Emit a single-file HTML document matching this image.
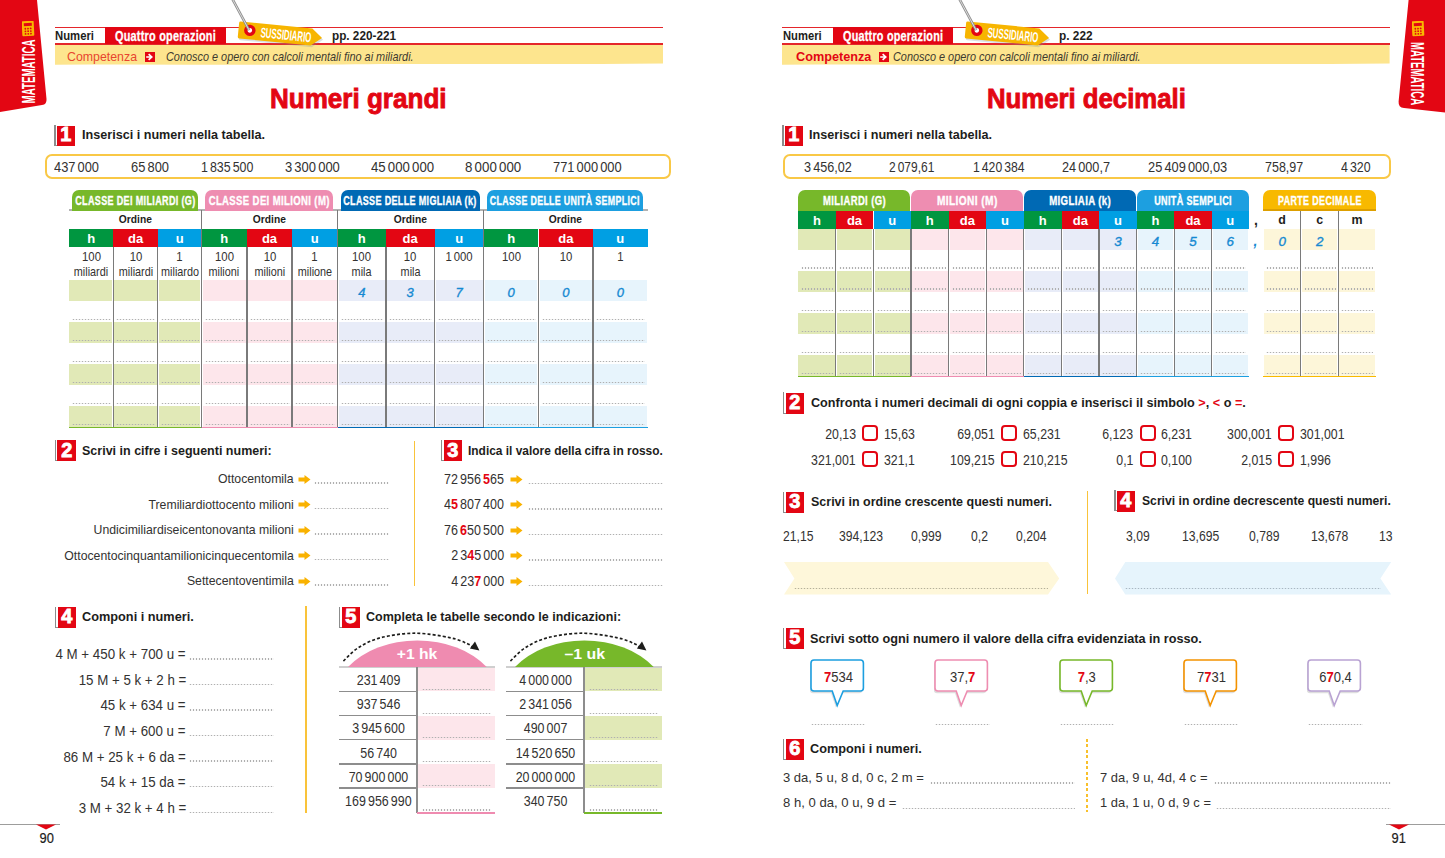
<!DOCTYPE html><html><head><meta charset="utf-8"><style>html,body{margin:0;padding:0;background:#fff;width:1445px;height:858px;overflow:hidden;position:relative;font-family:"Liberation Sans",sans-serif}.a{position:absolute}.f{display:flex;width:0;white-space:nowrap}.f>span{display:inline-block;white-space:nowrap}b{font-weight:700}</style></head><body><svg class="a" style="left:0px;top:0px;z-index:2;" width="50" height="114" viewBox="0 0 50 114"><path d="M0 0 H37 L46.5 99 Q47 104.5 42 105 L0 112 Z" fill="#e30613"/></svg>
<div class="a" style="left:22px;top:40px;width:13px;height:63px;z-index:4;overflow:visible"><div style="position:absolute;left:0;top:63px;width:63px;height:13px;transform:rotate(-90deg);transform-origin:0 0;display:flex;justify-content:center;align-items:center"><span style="font:700 17.5px/13px 'Liberation Sans',sans-serif;color:#fff;transform:scaleX(0.555);white-space:nowrap;display:inline-block;margin-top:1px">MATEMATICA</span></div></div>
<svg class="a" style="left:22px;top:21px;z-index:4;" width="13" height="16" viewBox="0 0 13 16"><g transform="rotate(-3 6 7.5)"><rect x="0" y="0" width="12" height="15" rx="1" fill="#f9b800"/><rect x="2" y="2" width="8" height="3" fill="#e30613"/><g fill="#e30613"><circle cx="3.3" cy="7.6" r="0.9"/><circle cx="6" cy="7.6" r="0.9"/><circle cx="8.7" cy="7.6" r="0.9"/><circle cx="3.3" cy="10.2" r="0.9"/><circle cx="6" cy="10.2" r="0.9"/><circle cx="8.7" cy="10.2" r="0.9"/><circle cx="3.3" cy="12.8" r="0.9"/><circle cx="6" cy="12.8" r="0.9"/><circle cx="8.7" cy="12.8" r="0.9"/></g></g></svg>
<div class="a" style="left:54.5px;top:26.6px;width:608.3px;height:1.6px;background:#e4262b;z-index:2;"></div>
<div class="a" style="left:54.5px;top:43.3px;width:608.3px;height:2.0px;background:#e4262b;z-index:2;"></div>
<div class="a" style="left:105.0px;top:27.4px;width:121.0px;height:17.0px;background:#e30613;z-index:3;"></div>
<div class="a f" style="left:55.0px;top:29.2px;justify-content:flex-start;z-index:5"><span style="font-size:13.5px;line-height:13.5px;color:#1d1d1b;font-weight:700;transform:scaleX(0.838);transform-origin:left">Numeri</span></div>
<div class="a f" style="left:115.0px;top:28.8px;justify-content:flex-start;z-index:5"><span style="font-size:14.6px;line-height:14.6px;color:#fff;font-weight:700;letter-spacing:0.3px;-webkit-text-stroke:0.3px #fff;transform:scaleX(0.747);transform-origin:left">Quattro operazioni</span></div>
<div class="a f" style="left:332.0px;top:29.4px;justify-content:flex-start;z-index:5"><span style="font-size:13.5px;line-height:13.5px;color:#1d1d1b;font-weight:700;transform:scaleX(0.870);transform-origin:left">pp. 220-221</span></div>
<svg class="a" style="left:54.5px;top:45px;z-index:1" width="608.3" height="22" viewBox="0 0 608.3 22"><path d="M0 0 H608.3 V18.5 C486.64 19.8 364.97999999999996 18.2 273.735 19.6 C182.48999999999998 20.5 91.24499999999999 18.8 0 19.8 Z" fill="#fde58e"/></svg>
<div class="a f" style="left:67.0px;top:50.2px;justify-content:flex-start;z-index:5"><span style="font-size:13.4px;line-height:13.4px;color:#e8452f;transform:scaleX(0.922);transform-origin:left">Competenza</span></div>
<div class="a" style="left:145.0px;top:52.0px;width:10.0px;height:9.8px;background:#e30613;z-index:3;"></div>
<svg class="a" style="left:145px;top:52px;z-index:4;" width="10" height="10" viewBox="0 0 10 10"><path d="M2 5 H6 M4.2 2.6 L6.8 5 L4.2 7.4" stroke="#fff" stroke-width="1.6" fill="none" stroke-linecap="square"/></svg>
<div class="a f" style="left:166.0px;top:50.5px;justify-content:flex-start;z-index:5"><span style="font-size:12.4px;line-height:12.4px;color:#3d3a2e;font-style:italic;transform:scaleX(0.879);transform-origin:left">Conosco e opero con calcoli mentali fino ai miliardi.</span></div>
<svg class="a" style="left:229.2px;top:0px;z-index:6;" width="100" height="50" viewBox="0 0 100 50"><g transform="translate(10.3,21.3) rotate(5.6)"><path d="M1.5 0 H73.4 L84 8.6 L73.4 17.1 H1.5 Q0 17.1 0 15.6 V1.5 Q0 0 1.5 0 Z" fill="#7f8fa6" opacity="0.28" transform="translate(1.2,1.6)"/><path d="M1.5 0 H73.4 L84 8.6 L73.4 17.1 H1.5 Q0 17.1 0 15.6 V1.5 Q0 0 1.5 0 Z" fill="#f7b500"/><circle cx="11.4" cy="8.0" r="5.7" fill="#e30613"/><circle cx="11.4" cy="8.0" r="2.3" fill="#fff"/><text x="22.3" y="13.9" font-family="Liberation Sans" font-weight="700" font-size="14.2" fill="#fff" textLength="51" lengthAdjust="spacingAndGlyphs">SUSSIDIARIO</text></g><path d="M3.4 -1 L20.1 30.2" stroke="#8d8d8d" stroke-width="2.6" fill="none"/><path d="M3.4 -1 L20.1 30.2" stroke="#e6e6e6" stroke-width="0.9" fill="none"/></svg>
<div class="a f" style="left:270.3px;top:84.7px;justify-content:flex-start;z-index:5"><span style="font-size:28px;line-height:28px;color:#e30613;font-weight:700;-webkit-text-stroke:0.9px #e30613;transform:scaleX(0.930);transform-origin:left">Numeri grandi</span></div>
<div class="a" style="left:54.3px;top:125.3px;width:1.4px;height:20.6px;background:#8c8c8c;z-index:4;"></div>
<div class="a" style="left:54.3px;top:144.8px;width:3.0px;height:1.1px;background:#8c8c8c;z-index:4;"></div>
<div class="a" style="left:57.1px;top:125.5px;width:18.2px;height:20.4px;background:#e30613;z-index:5;"></div>
<div class="a f" style="left:66.2px;top:124.3px;justify-content:center;z-index:6"><span style="font-size:20.5px;line-height:20.5px;color:#fff;font-weight:700;-webkit-text-stroke:0.9px #fff;transform:scaleX(0.970);transform-origin:center">1</span></div>
<div class="a f" style="left:81.7px;top:128.1px;justify-content:flex-start;z-index:5"><span style="font-size:13.6px;line-height:13.6px;color:#1d1d1b;font-weight:700;transform:scaleX(0.928);transform-origin:left">Inserisci i numeri nella tabella.</span></div>
<div class="a" style="left:45.4px;top:154.0px;width:625.8px;height:25.0px;background:#fff;z-index:2;border:2px solid #f9c846;border-radius:7px;box-sizing:border-box"></div>
<div class="a f" style="left:54.3px;top:160.0px;justify-content:flex-start;z-index:5"><span style="font-size:14.2px;line-height:14.2px;color:#333231;transform:scaleX(0.905);transform-origin:left">437&#8198;000</span></div>
<div class="a f" style="left:130.8px;top:160.0px;justify-content:flex-start;z-index:5"><span style="font-size:14.2px;line-height:14.2px;color:#333231;transform:scaleX(0.908);transform-origin:left">65&#8198;800</span></div>
<div class="a f" style="left:200.5px;top:160.0px;justify-content:flex-start;z-index:5"><span style="font-size:14.2px;line-height:14.2px;color:#333231;transform:scaleX(0.874);transform-origin:left">1&#8198;835&#8198;500</span></div>
<div class="a f" style="left:284.5px;top:160.0px;justify-content:flex-start;z-index:5"><span style="font-size:14.2px;line-height:14.2px;color:#333231;transform:scaleX(0.914);transform-origin:left">3&#8198;300&#8198;000</span></div>
<div class="a f" style="left:370.6px;top:160.0px;justify-content:flex-start;z-index:5"><span style="font-size:14.2px;line-height:14.2px;color:#333231;transform:scaleX(0.930);transform-origin:left">45&#8198;000&#8198;000</span></div>
<div class="a f" style="left:464.7px;top:160.0px;justify-content:flex-start;z-index:5"><span style="font-size:14.2px;line-height:14.2px;color:#333231;transform:scaleX(0.937);transform-origin:left">8&#8198;000&#8198;000</span></div>
<div class="a f" style="left:552.5px;top:160.0px;justify-content:flex-start;z-index:5"><span style="font-size:14.2px;line-height:14.2px;color:#333231;transform:scaleX(0.906);transform-origin:left">771&#8198;000&#8198;000</span></div>
<div class="a" style="left:71.7px;top:190.0px;width:126.6px;height:20.5px;background:#77b82a;z-index:3;border-radius:7px 7px 0 0"></div>
<div class="a f" style="left:135.0px;top:194.8px;justify-content:center;z-index:6"><span style="font-size:12.8px;line-height:12.8px;color:#fff;font-weight:700;letter-spacing:0.5px;-webkit-text-stroke:0.35px #fff;transform:scaleX(0.705);transform-origin:center">CLASSE DEI MILIARDI (G)</span></div>
<div class="a" style="left:205.0px;top:190.0px;width:128.3px;height:20.5px;background:#ee8db1;z-index:3;border-radius:7px 7px 0 0"></div>
<div class="a f" style="left:269.1px;top:194.8px;justify-content:center;z-index:6"><span style="font-size:12.8px;line-height:12.8px;color:#fff;font-weight:700;letter-spacing:0.5px;-webkit-text-stroke:0.35px #fff;transform:scaleX(0.746);transform-origin:center">CLASSE DEI MILIONI (M)</span></div>
<div class="a" style="left:340.6px;top:190.0px;width:139.4px;height:20.5px;background:#0069b4;z-index:3;border-radius:7px 7px 0 0"></div>
<div class="a f" style="left:410.3px;top:194.8px;justify-content:center;z-index:6"><span style="font-size:12.8px;line-height:12.8px;color:#fff;font-weight:700;letter-spacing:0.5px;-webkit-text-stroke:0.35px #fff;transform:scaleX(0.703);transform-origin:center">CLASSE DELLE MIGLIAIA (k)</span></div>
<div class="a" style="left:487.0px;top:190.0px;width:156.0px;height:20.5px;background:#1d9fe0;z-index:3;border-radius:7px 7px 0 0"></div>
<div class="a f" style="left:565.0px;top:194.8px;justify-content:center;z-index:6"><span style="font-size:12.8px;line-height:12.8px;color:#fff;font-weight:700;letter-spacing:0.5px;-webkit-text-stroke:0.35px #fff;transform:scaleX(0.689);transform-origin:center">CLASSE DELLE UNITÀ SEMPLICI</span></div>
<div class="a" style="left:68.9px;top:209.3px;width:578.7px;height:1.4px;background:#b2b2b2;z-index:2;"></div>
<div class="a f" style="left:135.2px;top:214.2px;justify-content:center;z-index:5"><span style="font-size:11.4px;line-height:11.4px;color:#1d1d1b;font-weight:700;transform:scaleX(0.899);transform-origin:center">Ordine</span></div>
<div class="a f" style="left:269.6px;top:214.2px;justify-content:center;z-index:5"><span style="font-size:11.4px;line-height:11.4px;color:#1d1d1b;font-weight:700;transform:scaleX(0.899);transform-origin:center">Ordine</span></div>
<div class="a f" style="left:410.6px;top:214.2px;justify-content:center;z-index:5"><span style="font-size:11.4px;line-height:11.4px;color:#1d1d1b;font-weight:700;transform:scaleX(0.899);transform-origin:center">Ordine</span></div>
<div class="a f" style="left:565.6px;top:214.2px;justify-content:center;z-index:5"><span style="font-size:11.4px;line-height:11.4px;color:#1d1d1b;font-weight:700;transform:scaleX(0.899);transform-origin:center">Ordine</span></div>
<div class="a" style="left:68.9px;top:229.0px;width:44.5px;height:17.5px;background:#009640;z-index:3;"></div>
<div class="a f" style="left:91.2px;top:231.6px;justify-content:center;z-index:6"><span style="font-size:13px;line-height:13px;color:#fff;font-weight:700">h</span></div>
<div class="a" style="left:113.4px;top:229.0px;width:44.3px;height:17.5px;background:#e30613;z-index:3;"></div>
<div class="a f" style="left:135.6px;top:231.6px;justify-content:center;z-index:6"><span style="font-size:13px;line-height:13px;color:#fff;font-weight:700">da</span></div>
<div class="a" style="left:157.7px;top:229.0px;width:43.8px;height:17.5px;background:#009fe3;z-index:3;"></div>
<div class="a f" style="left:179.6px;top:231.6px;justify-content:center;z-index:6"><span style="font-size:13px;line-height:13px;color:#fff;font-weight:700">u</span></div>
<div class="a" style="left:201.5px;top:229.0px;width:45.5px;height:17.5px;background:#009640;z-index:3;"></div>
<div class="a f" style="left:224.2px;top:231.6px;justify-content:center;z-index:6"><span style="font-size:13px;line-height:13px;color:#fff;font-weight:700">h</span></div>
<div class="a" style="left:247.0px;top:229.0px;width:45.0px;height:17.5px;background:#e30613;z-index:3;"></div>
<div class="a f" style="left:269.5px;top:231.6px;justify-content:center;z-index:6"><span style="font-size:13px;line-height:13px;color:#fff;font-weight:700">da</span></div>
<div class="a" style="left:292.0px;top:229.0px;width:45.6px;height:17.5px;background:#009fe3;z-index:3;"></div>
<div class="a f" style="left:314.8px;top:231.6px;justify-content:center;z-index:6"><span style="font-size:13px;line-height:13px;color:#fff;font-weight:700">u</span></div>
<div class="a" style="left:337.6px;top:229.0px;width:48.4px;height:17.5px;background:#009640;z-index:3;"></div>
<div class="a f" style="left:361.8px;top:231.6px;justify-content:center;z-index:6"><span style="font-size:13px;line-height:13px;color:#fff;font-weight:700">h</span></div>
<div class="a" style="left:386.0px;top:229.0px;width:48.5px;height:17.5px;background:#e30613;z-index:3;"></div>
<div class="a f" style="left:410.2px;top:231.6px;justify-content:center;z-index:6"><span style="font-size:13px;line-height:13px;color:#fff;font-weight:700">da</span></div>
<div class="a" style="left:434.5px;top:229.0px;width:49.1px;height:17.5px;background:#009fe3;z-index:3;"></div>
<div class="a f" style="left:459.1px;top:231.6px;justify-content:center;z-index:6"><span style="font-size:13px;line-height:13px;color:#fff;font-weight:700">u</span></div>
<div class="a" style="left:483.6px;top:229.0px;width:54.9px;height:17.5px;background:#009640;z-index:3;"></div>
<div class="a f" style="left:511.1px;top:231.6px;justify-content:center;z-index:6"><span style="font-size:13px;line-height:13px;color:#fff;font-weight:700">h</span></div>
<div class="a" style="left:538.5px;top:229.0px;width:54.5px;height:17.5px;background:#e30613;z-index:3;"></div>
<div class="a f" style="left:565.8px;top:231.6px;justify-content:center;z-index:6"><span style="font-size:13px;line-height:13px;color:#fff;font-weight:700">da</span></div>
<div class="a" style="left:593.0px;top:229.0px;width:54.6px;height:17.5px;background:#009fe3;z-index:3;"></div>
<div class="a f" style="left:620.3px;top:231.6px;justify-content:center;z-index:6"><span style="font-size:13px;line-height:13px;color:#fff;font-weight:700">u</span></div>
<div class="a f" style="left:91.2px;top:250.9px;justify-content:center;z-index:5"><span style="font-size:12.6px;line-height:12.6px;color:#333231;transform:scaleX(0.900);transform-origin:center">100</span></div>
<div class="a f" style="left:91.2px;top:265.6px;justify-content:center;z-index:5"><span style="font-size:12.6px;line-height:12.6px;color:#333231;transform:scaleX(0.860);transform-origin:center">miliardi</span></div>
<div class="a f" style="left:135.6px;top:250.9px;justify-content:center;z-index:5"><span style="font-size:12.6px;line-height:12.6px;color:#333231;transform:scaleX(0.900);transform-origin:center">10</span></div>
<div class="a f" style="left:135.6px;top:265.6px;justify-content:center;z-index:5"><span style="font-size:12.6px;line-height:12.6px;color:#333231;transform:scaleX(0.860);transform-origin:center">miliardi</span></div>
<div class="a f" style="left:179.6px;top:250.9px;justify-content:center;z-index:5"><span style="font-size:12.6px;line-height:12.6px;color:#333231;transform:scaleX(0.900);transform-origin:center">1</span></div>
<div class="a f" style="left:179.6px;top:265.6px;justify-content:center;z-index:5"><span style="font-size:12.6px;line-height:12.6px;color:#333231;transform:scaleX(0.860);transform-origin:center">miliardo</span></div>
<div class="a f" style="left:224.2px;top:250.9px;justify-content:center;z-index:5"><span style="font-size:12.6px;line-height:12.6px;color:#333231;transform:scaleX(0.900);transform-origin:center">100</span></div>
<div class="a f" style="left:224.2px;top:265.6px;justify-content:center;z-index:5"><span style="font-size:12.6px;line-height:12.6px;color:#333231;transform:scaleX(0.860);transform-origin:center">milioni</span></div>
<div class="a f" style="left:269.5px;top:250.9px;justify-content:center;z-index:5"><span style="font-size:12.6px;line-height:12.6px;color:#333231;transform:scaleX(0.900);transform-origin:center">10</span></div>
<div class="a f" style="left:269.5px;top:265.6px;justify-content:center;z-index:5"><span style="font-size:12.6px;line-height:12.6px;color:#333231;transform:scaleX(0.860);transform-origin:center">milioni</span></div>
<div class="a f" style="left:314.8px;top:250.9px;justify-content:center;z-index:5"><span style="font-size:12.6px;line-height:12.6px;color:#333231;transform:scaleX(0.900);transform-origin:center">1</span></div>
<div class="a f" style="left:314.8px;top:265.6px;justify-content:center;z-index:5"><span style="font-size:12.6px;line-height:12.6px;color:#333231;transform:scaleX(0.860);transform-origin:center">milione</span></div>
<div class="a f" style="left:361.8px;top:250.9px;justify-content:center;z-index:5"><span style="font-size:12.6px;line-height:12.6px;color:#333231;transform:scaleX(0.900);transform-origin:center">100</span></div>
<div class="a f" style="left:361.8px;top:265.6px;justify-content:center;z-index:5"><span style="font-size:12.6px;line-height:12.6px;color:#333231;transform:scaleX(0.860);transform-origin:center">mila</span></div>
<div class="a f" style="left:410.2px;top:250.9px;justify-content:center;z-index:5"><span style="font-size:12.6px;line-height:12.6px;color:#333231;transform:scaleX(0.900);transform-origin:center">10</span></div>
<div class="a f" style="left:410.2px;top:265.6px;justify-content:center;z-index:5"><span style="font-size:12.6px;line-height:12.6px;color:#333231;transform:scaleX(0.860);transform-origin:center">mila</span></div>
<div class="a f" style="left:459.1px;top:250.9px;justify-content:center;z-index:5"><span style="font-size:12.6px;line-height:12.6px;color:#333231;transform:scaleX(0.900);transform-origin:center">1&#8198;000</span></div>
<div class="a f" style="left:511.1px;top:250.9px;justify-content:center;z-index:5"><span style="font-size:12.6px;line-height:12.6px;color:#333231;transform:scaleX(0.900);transform-origin:center">100</span></div>
<div class="a f" style="left:565.8px;top:250.9px;justify-content:center;z-index:5"><span style="font-size:12.6px;line-height:12.6px;color:#333231;transform:scaleX(0.900);transform-origin:center">10</span></div>
<div class="a f" style="left:620.3px;top:250.9px;justify-content:center;z-index:5"><span style="font-size:12.6px;line-height:12.6px;color:#333231;transform:scaleX(0.900);transform-origin:center">1</span></div>
<div class="a" style="left:68.9px;top:280.1px;width:43.5px;height:21.0px;background:#e1e9b7;z-index:2;"></div>
<div class="a" style="left:114.4px;top:280.1px;width:42.3px;height:21.0px;background:#e1e9b7;z-index:2;"></div>
<div class="a" style="left:158.7px;top:280.1px;width:41.8px;height:21.0px;background:#e1e9b7;z-index:2;"></div>
<div class="a" style="left:202.5px;top:280.1px;width:43.5px;height:21.0px;background:#fde6eb;z-index:2;"></div>
<div class="a" style="left:248.0px;top:280.1px;width:43.0px;height:21.0px;background:#fde6eb;z-index:2;"></div>
<div class="a" style="left:293.0px;top:280.1px;width:43.6px;height:21.0px;background:#fde6eb;z-index:2;"></div>
<div class="a" style="left:338.6px;top:280.1px;width:46.4px;height:21.0px;background:#e8ecf8;z-index:2;"></div>
<div class="a" style="left:387.0px;top:280.1px;width:46.5px;height:21.0px;background:#e8ecf8;z-index:2;"></div>
<div class="a" style="left:435.5px;top:280.1px;width:47.1px;height:21.0px;background:#e8ecf8;z-index:2;"></div>
<div class="a" style="left:484.6px;top:280.1px;width:52.9px;height:21.0px;background:#e7f4fc;z-index:2;"></div>
<div class="a" style="left:539.5px;top:280.1px;width:52.5px;height:21.0px;background:#e7f4fc;z-index:2;"></div>
<div class="a" style="left:594.0px;top:280.1px;width:52.6px;height:21.0px;background:#e7f4fc;z-index:2;"></div>
<div class="a" style="left:71.9px;top:318.9px;width:39.0px;height:1.4px;background-image:radial-gradient(circle,#b0b0b0 0.6px,transparent 1.1px);background-size:3.0px 1.4px;z-index:3"></div>
<div class="a" style="left:116.4px;top:318.9px;width:38.8px;height:1.4px;background-image:radial-gradient(circle,#b0b0b0 0.6px,transparent 1.1px);background-size:3.0px 1.4px;z-index:3"></div>
<div class="a" style="left:160.7px;top:318.9px;width:38.3px;height:1.4px;background-image:radial-gradient(circle,#b0b0b0 0.6px,transparent 1.1px);background-size:3.0px 1.4px;z-index:3"></div>
<div class="a" style="left:204.5px;top:318.9px;width:40.0px;height:1.4px;background-image:radial-gradient(circle,#b0b0b0 0.6px,transparent 1.1px);background-size:3.0px 1.4px;z-index:3"></div>
<div class="a" style="left:250.0px;top:318.9px;width:39.5px;height:1.4px;background-image:radial-gradient(circle,#b0b0b0 0.6px,transparent 1.1px);background-size:3.0px 1.4px;z-index:3"></div>
<div class="a" style="left:295.0px;top:318.9px;width:40.1px;height:1.4px;background-image:radial-gradient(circle,#b0b0b0 0.6px,transparent 1.1px);background-size:3.0px 1.4px;z-index:3"></div>
<div class="a" style="left:340.6px;top:318.9px;width:42.9px;height:1.4px;background-image:radial-gradient(circle,#b0b0b0 0.6px,transparent 1.1px);background-size:3.0px 1.4px;z-index:3"></div>
<div class="a" style="left:389.0px;top:318.9px;width:43.0px;height:1.4px;background-image:radial-gradient(circle,#b0b0b0 0.6px,transparent 1.1px);background-size:3.0px 1.4px;z-index:3"></div>
<div class="a" style="left:437.5px;top:318.9px;width:43.6px;height:1.4px;background-image:radial-gradient(circle,#b0b0b0 0.6px,transparent 1.1px);background-size:3.0px 1.4px;z-index:3"></div>
<div class="a" style="left:486.6px;top:318.9px;width:49.4px;height:1.4px;background-image:radial-gradient(circle,#b0b0b0 0.6px,transparent 1.1px);background-size:3.0px 1.4px;z-index:3"></div>
<div class="a" style="left:541.5px;top:318.9px;width:49.0px;height:1.4px;background-image:radial-gradient(circle,#b0b0b0 0.6px,transparent 1.1px);background-size:3.0px 1.4px;z-index:3"></div>
<div class="a" style="left:596.0px;top:318.9px;width:49.1px;height:1.4px;background-image:radial-gradient(circle,#b0b0b0 0.6px,transparent 1.1px);background-size:3.0px 1.4px;z-index:3"></div>
<div class="a" style="left:68.9px;top:322.2px;width:43.5px;height:21.0px;background:#e1e9b7;z-index:2;"></div>
<div class="a" style="left:71.9px;top:339.9px;width:39.0px;height:1.4px;background-image:radial-gradient(circle,#b0b0b0 0.6px,transparent 1.1px);background-size:3.0px 1.4px;z-index:3"></div>
<div class="a" style="left:114.4px;top:322.2px;width:42.3px;height:21.0px;background:#e1e9b7;z-index:2;"></div>
<div class="a" style="left:116.4px;top:339.9px;width:38.8px;height:1.4px;background-image:radial-gradient(circle,#b0b0b0 0.6px,transparent 1.1px);background-size:3.0px 1.4px;z-index:3"></div>
<div class="a" style="left:158.7px;top:322.2px;width:41.8px;height:21.0px;background:#e1e9b7;z-index:2;"></div>
<div class="a" style="left:160.7px;top:339.9px;width:38.3px;height:1.4px;background-image:radial-gradient(circle,#b0b0b0 0.6px,transparent 1.1px);background-size:3.0px 1.4px;z-index:3"></div>
<div class="a" style="left:202.5px;top:322.2px;width:43.5px;height:21.0px;background:#fde6eb;z-index:2;"></div>
<div class="a" style="left:204.5px;top:339.9px;width:40.0px;height:1.4px;background-image:radial-gradient(circle,#b0b0b0 0.6px,transparent 1.1px);background-size:3.0px 1.4px;z-index:3"></div>
<div class="a" style="left:248.0px;top:322.2px;width:43.0px;height:21.0px;background:#fde6eb;z-index:2;"></div>
<div class="a" style="left:250.0px;top:339.9px;width:39.5px;height:1.4px;background-image:radial-gradient(circle,#b0b0b0 0.6px,transparent 1.1px);background-size:3.0px 1.4px;z-index:3"></div>
<div class="a" style="left:293.0px;top:322.2px;width:43.6px;height:21.0px;background:#fde6eb;z-index:2;"></div>
<div class="a" style="left:295.0px;top:339.9px;width:40.1px;height:1.4px;background-image:radial-gradient(circle,#b0b0b0 0.6px,transparent 1.1px);background-size:3.0px 1.4px;z-index:3"></div>
<div class="a" style="left:338.6px;top:322.2px;width:46.4px;height:21.0px;background:#e8ecf8;z-index:2;"></div>
<div class="a" style="left:340.6px;top:339.9px;width:42.9px;height:1.4px;background-image:radial-gradient(circle,#b0b0b0 0.6px,transparent 1.1px);background-size:3.0px 1.4px;z-index:3"></div>
<div class="a" style="left:387.0px;top:322.2px;width:46.5px;height:21.0px;background:#e8ecf8;z-index:2;"></div>
<div class="a" style="left:389.0px;top:339.9px;width:43.0px;height:1.4px;background-image:radial-gradient(circle,#b0b0b0 0.6px,transparent 1.1px);background-size:3.0px 1.4px;z-index:3"></div>
<div class="a" style="left:435.5px;top:322.2px;width:47.1px;height:21.0px;background:#e8ecf8;z-index:2;"></div>
<div class="a" style="left:437.5px;top:339.9px;width:43.6px;height:1.4px;background-image:radial-gradient(circle,#b0b0b0 0.6px,transparent 1.1px);background-size:3.0px 1.4px;z-index:3"></div>
<div class="a" style="left:484.6px;top:322.2px;width:52.9px;height:21.0px;background:#e7f4fc;z-index:2;"></div>
<div class="a" style="left:486.6px;top:339.9px;width:49.4px;height:1.4px;background-image:radial-gradient(circle,#b0b0b0 0.6px,transparent 1.1px);background-size:3.0px 1.4px;z-index:3"></div>
<div class="a" style="left:539.5px;top:322.2px;width:52.5px;height:21.0px;background:#e7f4fc;z-index:2;"></div>
<div class="a" style="left:541.5px;top:339.9px;width:49.0px;height:1.4px;background-image:radial-gradient(circle,#b0b0b0 0.6px,transparent 1.1px);background-size:3.0px 1.4px;z-index:3"></div>
<div class="a" style="left:594.0px;top:322.2px;width:52.6px;height:21.0px;background:#e7f4fc;z-index:2;"></div>
<div class="a" style="left:596.0px;top:339.9px;width:49.1px;height:1.4px;background-image:radial-gradient(circle,#b0b0b0 0.6px,transparent 1.1px);background-size:3.0px 1.4px;z-index:3"></div>
<div class="a" style="left:71.9px;top:360.9px;width:39.0px;height:1.4px;background-image:radial-gradient(circle,#b0b0b0 0.6px,transparent 1.1px);background-size:3.0px 1.4px;z-index:3"></div>
<div class="a" style="left:116.4px;top:360.9px;width:38.8px;height:1.4px;background-image:radial-gradient(circle,#b0b0b0 0.6px,transparent 1.1px);background-size:3.0px 1.4px;z-index:3"></div>
<div class="a" style="left:160.7px;top:360.9px;width:38.3px;height:1.4px;background-image:radial-gradient(circle,#b0b0b0 0.6px,transparent 1.1px);background-size:3.0px 1.4px;z-index:3"></div>
<div class="a" style="left:204.5px;top:360.9px;width:40.0px;height:1.4px;background-image:radial-gradient(circle,#b0b0b0 0.6px,transparent 1.1px);background-size:3.0px 1.4px;z-index:3"></div>
<div class="a" style="left:250.0px;top:360.9px;width:39.5px;height:1.4px;background-image:radial-gradient(circle,#b0b0b0 0.6px,transparent 1.1px);background-size:3.0px 1.4px;z-index:3"></div>
<div class="a" style="left:295.0px;top:360.9px;width:40.1px;height:1.4px;background-image:radial-gradient(circle,#b0b0b0 0.6px,transparent 1.1px);background-size:3.0px 1.4px;z-index:3"></div>
<div class="a" style="left:340.6px;top:360.9px;width:42.9px;height:1.4px;background-image:radial-gradient(circle,#b0b0b0 0.6px,transparent 1.1px);background-size:3.0px 1.4px;z-index:3"></div>
<div class="a" style="left:389.0px;top:360.9px;width:43.0px;height:1.4px;background-image:radial-gradient(circle,#b0b0b0 0.6px,transparent 1.1px);background-size:3.0px 1.4px;z-index:3"></div>
<div class="a" style="left:437.5px;top:360.9px;width:43.6px;height:1.4px;background-image:radial-gradient(circle,#b0b0b0 0.6px,transparent 1.1px);background-size:3.0px 1.4px;z-index:3"></div>
<div class="a" style="left:486.6px;top:360.9px;width:49.4px;height:1.4px;background-image:radial-gradient(circle,#b0b0b0 0.6px,transparent 1.1px);background-size:3.0px 1.4px;z-index:3"></div>
<div class="a" style="left:541.5px;top:360.9px;width:49.0px;height:1.4px;background-image:radial-gradient(circle,#b0b0b0 0.6px,transparent 1.1px);background-size:3.0px 1.4px;z-index:3"></div>
<div class="a" style="left:596.0px;top:360.9px;width:49.1px;height:1.4px;background-image:radial-gradient(circle,#b0b0b0 0.6px,transparent 1.1px);background-size:3.0px 1.4px;z-index:3"></div>
<div class="a" style="left:68.9px;top:364.2px;width:43.5px;height:21.0px;background:#e1e9b7;z-index:2;"></div>
<div class="a" style="left:71.9px;top:381.9px;width:39.0px;height:1.4px;background-image:radial-gradient(circle,#b0b0b0 0.6px,transparent 1.1px);background-size:3.0px 1.4px;z-index:3"></div>
<div class="a" style="left:114.4px;top:364.2px;width:42.3px;height:21.0px;background:#e1e9b7;z-index:2;"></div>
<div class="a" style="left:116.4px;top:381.9px;width:38.8px;height:1.4px;background-image:radial-gradient(circle,#b0b0b0 0.6px,transparent 1.1px);background-size:3.0px 1.4px;z-index:3"></div>
<div class="a" style="left:158.7px;top:364.2px;width:41.8px;height:21.0px;background:#e1e9b7;z-index:2;"></div>
<div class="a" style="left:160.7px;top:381.9px;width:38.3px;height:1.4px;background-image:radial-gradient(circle,#b0b0b0 0.6px,transparent 1.1px);background-size:3.0px 1.4px;z-index:3"></div>
<div class="a" style="left:202.5px;top:364.2px;width:43.5px;height:21.0px;background:#fde6eb;z-index:2;"></div>
<div class="a" style="left:204.5px;top:381.9px;width:40.0px;height:1.4px;background-image:radial-gradient(circle,#b0b0b0 0.6px,transparent 1.1px);background-size:3.0px 1.4px;z-index:3"></div>
<div class="a" style="left:248.0px;top:364.2px;width:43.0px;height:21.0px;background:#fde6eb;z-index:2;"></div>
<div class="a" style="left:250.0px;top:381.9px;width:39.5px;height:1.4px;background-image:radial-gradient(circle,#b0b0b0 0.6px,transparent 1.1px);background-size:3.0px 1.4px;z-index:3"></div>
<div class="a" style="left:293.0px;top:364.2px;width:43.6px;height:21.0px;background:#fde6eb;z-index:2;"></div>
<div class="a" style="left:295.0px;top:381.9px;width:40.1px;height:1.4px;background-image:radial-gradient(circle,#b0b0b0 0.6px,transparent 1.1px);background-size:3.0px 1.4px;z-index:3"></div>
<div class="a" style="left:338.6px;top:364.2px;width:46.4px;height:21.0px;background:#e8ecf8;z-index:2;"></div>
<div class="a" style="left:340.6px;top:381.9px;width:42.9px;height:1.4px;background-image:radial-gradient(circle,#b0b0b0 0.6px,transparent 1.1px);background-size:3.0px 1.4px;z-index:3"></div>
<div class="a" style="left:387.0px;top:364.2px;width:46.5px;height:21.0px;background:#e8ecf8;z-index:2;"></div>
<div class="a" style="left:389.0px;top:381.9px;width:43.0px;height:1.4px;background-image:radial-gradient(circle,#b0b0b0 0.6px,transparent 1.1px);background-size:3.0px 1.4px;z-index:3"></div>
<div class="a" style="left:435.5px;top:364.2px;width:47.1px;height:21.0px;background:#e8ecf8;z-index:2;"></div>
<div class="a" style="left:437.5px;top:381.9px;width:43.6px;height:1.4px;background-image:radial-gradient(circle,#b0b0b0 0.6px,transparent 1.1px);background-size:3.0px 1.4px;z-index:3"></div>
<div class="a" style="left:484.6px;top:364.2px;width:52.9px;height:21.0px;background:#e7f4fc;z-index:2;"></div>
<div class="a" style="left:486.6px;top:381.9px;width:49.4px;height:1.4px;background-image:radial-gradient(circle,#b0b0b0 0.6px,transparent 1.1px);background-size:3.0px 1.4px;z-index:3"></div>
<div class="a" style="left:539.5px;top:364.2px;width:52.5px;height:21.0px;background:#e7f4fc;z-index:2;"></div>
<div class="a" style="left:541.5px;top:381.9px;width:49.0px;height:1.4px;background-image:radial-gradient(circle,#b0b0b0 0.6px,transparent 1.1px);background-size:3.0px 1.4px;z-index:3"></div>
<div class="a" style="left:594.0px;top:364.2px;width:52.6px;height:21.0px;background:#e7f4fc;z-index:2;"></div>
<div class="a" style="left:596.0px;top:381.9px;width:49.1px;height:1.4px;background-image:radial-gradient(circle,#b0b0b0 0.6px,transparent 1.1px);background-size:3.0px 1.4px;z-index:3"></div>
<div class="a" style="left:71.9px;top:403.0px;width:39.0px;height:1.4px;background-image:radial-gradient(circle,#b0b0b0 0.6px,transparent 1.1px);background-size:3.0px 1.4px;z-index:3"></div>
<div class="a" style="left:116.4px;top:403.0px;width:38.8px;height:1.4px;background-image:radial-gradient(circle,#b0b0b0 0.6px,transparent 1.1px);background-size:3.0px 1.4px;z-index:3"></div>
<div class="a" style="left:160.7px;top:403.0px;width:38.3px;height:1.4px;background-image:radial-gradient(circle,#b0b0b0 0.6px,transparent 1.1px);background-size:3.0px 1.4px;z-index:3"></div>
<div class="a" style="left:204.5px;top:403.0px;width:40.0px;height:1.4px;background-image:radial-gradient(circle,#b0b0b0 0.6px,transparent 1.1px);background-size:3.0px 1.4px;z-index:3"></div>
<div class="a" style="left:250.0px;top:403.0px;width:39.5px;height:1.4px;background-image:radial-gradient(circle,#b0b0b0 0.6px,transparent 1.1px);background-size:3.0px 1.4px;z-index:3"></div>
<div class="a" style="left:295.0px;top:403.0px;width:40.1px;height:1.4px;background-image:radial-gradient(circle,#b0b0b0 0.6px,transparent 1.1px);background-size:3.0px 1.4px;z-index:3"></div>
<div class="a" style="left:340.6px;top:403.0px;width:42.9px;height:1.4px;background-image:radial-gradient(circle,#b0b0b0 0.6px,transparent 1.1px);background-size:3.0px 1.4px;z-index:3"></div>
<div class="a" style="left:389.0px;top:403.0px;width:43.0px;height:1.4px;background-image:radial-gradient(circle,#b0b0b0 0.6px,transparent 1.1px);background-size:3.0px 1.4px;z-index:3"></div>
<div class="a" style="left:437.5px;top:403.0px;width:43.6px;height:1.4px;background-image:radial-gradient(circle,#b0b0b0 0.6px,transparent 1.1px);background-size:3.0px 1.4px;z-index:3"></div>
<div class="a" style="left:486.6px;top:403.0px;width:49.4px;height:1.4px;background-image:radial-gradient(circle,#b0b0b0 0.6px,transparent 1.1px);background-size:3.0px 1.4px;z-index:3"></div>
<div class="a" style="left:541.5px;top:403.0px;width:49.0px;height:1.4px;background-image:radial-gradient(circle,#b0b0b0 0.6px,transparent 1.1px);background-size:3.0px 1.4px;z-index:3"></div>
<div class="a" style="left:596.0px;top:403.0px;width:49.1px;height:1.4px;background-image:radial-gradient(circle,#b0b0b0 0.6px,transparent 1.1px);background-size:3.0px 1.4px;z-index:3"></div>
<div class="a" style="left:68.9px;top:406.3px;width:43.5px;height:21.0px;background:#e1e9b7;z-index:2;"></div>
<div class="a" style="left:71.9px;top:424.0px;width:39.0px;height:1.4px;background-image:radial-gradient(circle,#b0b0b0 0.6px,transparent 1.1px);background-size:3.0px 1.4px;z-index:3"></div>
<div class="a" style="left:114.4px;top:406.3px;width:42.3px;height:21.0px;background:#e1e9b7;z-index:2;"></div>
<div class="a" style="left:116.4px;top:424.0px;width:38.8px;height:1.4px;background-image:radial-gradient(circle,#b0b0b0 0.6px,transparent 1.1px);background-size:3.0px 1.4px;z-index:3"></div>
<div class="a" style="left:158.7px;top:406.3px;width:41.8px;height:21.0px;background:#e1e9b7;z-index:2;"></div>
<div class="a" style="left:160.7px;top:424.0px;width:38.3px;height:1.4px;background-image:radial-gradient(circle,#b0b0b0 0.6px,transparent 1.1px);background-size:3.0px 1.4px;z-index:3"></div>
<div class="a" style="left:202.5px;top:406.3px;width:43.5px;height:21.0px;background:#fde6eb;z-index:2;"></div>
<div class="a" style="left:204.5px;top:424.0px;width:40.0px;height:1.4px;background-image:radial-gradient(circle,#b0b0b0 0.6px,transparent 1.1px);background-size:3.0px 1.4px;z-index:3"></div>
<div class="a" style="left:248.0px;top:406.3px;width:43.0px;height:21.0px;background:#fde6eb;z-index:2;"></div>
<div class="a" style="left:250.0px;top:424.0px;width:39.5px;height:1.4px;background-image:radial-gradient(circle,#b0b0b0 0.6px,transparent 1.1px);background-size:3.0px 1.4px;z-index:3"></div>
<div class="a" style="left:293.0px;top:406.3px;width:43.6px;height:21.0px;background:#fde6eb;z-index:2;"></div>
<div class="a" style="left:295.0px;top:424.0px;width:40.1px;height:1.4px;background-image:radial-gradient(circle,#b0b0b0 0.6px,transparent 1.1px);background-size:3.0px 1.4px;z-index:3"></div>
<div class="a" style="left:338.6px;top:406.3px;width:46.4px;height:21.0px;background:#e8ecf8;z-index:2;"></div>
<div class="a" style="left:340.6px;top:424.0px;width:42.9px;height:1.4px;background-image:radial-gradient(circle,#b0b0b0 0.6px,transparent 1.1px);background-size:3.0px 1.4px;z-index:3"></div>
<div class="a" style="left:387.0px;top:406.3px;width:46.5px;height:21.0px;background:#e8ecf8;z-index:2;"></div>
<div class="a" style="left:389.0px;top:424.0px;width:43.0px;height:1.4px;background-image:radial-gradient(circle,#b0b0b0 0.6px,transparent 1.1px);background-size:3.0px 1.4px;z-index:3"></div>
<div class="a" style="left:435.5px;top:406.3px;width:47.1px;height:21.0px;background:#e8ecf8;z-index:2;"></div>
<div class="a" style="left:437.5px;top:424.0px;width:43.6px;height:1.4px;background-image:radial-gradient(circle,#b0b0b0 0.6px,transparent 1.1px);background-size:3.0px 1.4px;z-index:3"></div>
<div class="a" style="left:484.6px;top:406.3px;width:52.9px;height:21.0px;background:#e7f4fc;z-index:2;"></div>
<div class="a" style="left:486.6px;top:424.0px;width:49.4px;height:1.4px;background-image:radial-gradient(circle,#b0b0b0 0.6px,transparent 1.1px);background-size:3.0px 1.4px;z-index:3"></div>
<div class="a" style="left:539.5px;top:406.3px;width:52.5px;height:21.0px;background:#e7f4fc;z-index:2;"></div>
<div class="a" style="left:541.5px;top:424.0px;width:49.0px;height:1.4px;background-image:radial-gradient(circle,#b0b0b0 0.6px,transparent 1.1px);background-size:3.0px 1.4px;z-index:3"></div>
<div class="a" style="left:594.0px;top:406.3px;width:52.6px;height:21.0px;background:#e7f4fc;z-index:2;"></div>
<div class="a" style="left:596.0px;top:424.0px;width:49.1px;height:1.4px;background-image:radial-gradient(circle,#b0b0b0 0.6px,transparent 1.1px);background-size:3.0px 1.4px;z-index:3"></div>
<div class="a f" style="left:361.8px;top:286.3px;justify-content:center;z-index:5"><span style="font-size:13px;line-height:13px;color:#1589d2;font-style:italic;-webkit-text-stroke:0.35px #1589d2">4</span></div>
<div class="a f" style="left:410.2px;top:286.3px;justify-content:center;z-index:5"><span style="font-size:13px;line-height:13px;color:#1589d2;font-style:italic;-webkit-text-stroke:0.35px #1589d2">3</span></div>
<div class="a f" style="left:459.1px;top:286.3px;justify-content:center;z-index:5"><span style="font-size:13px;line-height:13px;color:#1589d2;font-style:italic;-webkit-text-stroke:0.35px #1589d2">7</span></div>
<div class="a f" style="left:511.1px;top:286.3px;justify-content:center;z-index:5"><span style="font-size:13px;line-height:13px;color:#1589d2;font-style:italic;-webkit-text-stroke:0.35px #1589d2">0</span></div>
<div class="a f" style="left:565.8px;top:286.3px;justify-content:center;z-index:5"><span style="font-size:13px;line-height:13px;color:#1589d2;font-style:italic;-webkit-text-stroke:0.35px #1589d2">0</span></div>
<div class="a f" style="left:620.3px;top:286.3px;justify-content:center;z-index:5"><span style="font-size:13px;line-height:13px;color:#1589d2;font-style:italic;-webkit-text-stroke:0.35px #1589d2">0</span></div>
<div class="a" style="left:112.8px;top:246.5px;width:1.2px;height:181.3px;background:#7a7a7a;z-index:4;"></div>
<div class="a" style="left:157.1px;top:246.5px;width:1.2px;height:181.3px;background:#7a7a7a;z-index:4;"></div>
<div class="a" style="left:200.9px;top:210.0px;width:1.2px;height:217.8px;background:#7a7a7a;z-index:4;"></div>
<div class="a" style="left:246.4px;top:246.5px;width:1.2px;height:181.3px;background:#7a7a7a;z-index:4;"></div>
<div class="a" style="left:291.4px;top:246.5px;width:1.2px;height:181.3px;background:#7a7a7a;z-index:4;"></div>
<div class="a" style="left:337.0px;top:210.0px;width:1.2px;height:217.8px;background:#7a7a7a;z-index:4;"></div>
<div class="a" style="left:385.4px;top:246.5px;width:1.2px;height:181.3px;background:#7a7a7a;z-index:4;"></div>
<div class="a" style="left:433.9px;top:246.5px;width:1.2px;height:181.3px;background:#7a7a7a;z-index:4;"></div>
<div class="a" style="left:483.0px;top:210.0px;width:1.2px;height:217.8px;background:#7a7a7a;z-index:4;"></div>
<div class="a" style="left:537.9px;top:246.5px;width:1.2px;height:181.3px;background:#7a7a7a;z-index:4;"></div>
<div class="a" style="left:592.4px;top:246.5px;width:1.2px;height:181.3px;background:#7a7a7a;z-index:4;"></div>
<div class="a" style="left:68.9px;top:426.9px;width:132.6px;height:1.6px;background:#77b82a;z-index:4;"></div>
<div class="a" style="left:201.5px;top:426.9px;width:136.1px;height:1.6px;background:#ee8db1;z-index:4;"></div>
<div class="a" style="left:337.6px;top:426.9px;width:146.0px;height:1.6px;background:#0069b4;z-index:4;"></div>
<div class="a" style="left:483.6px;top:426.9px;width:164.0px;height:1.6px;background:#1d9fe0;z-index:4;"></div>
<div class="a" style="left:54.5px;top:440.1px;width:1.4px;height:21.3px;background:#8c8c8c;z-index:4;"></div>
<div class="a" style="left:54.5px;top:460.3px;width:3.0px;height:1.1px;background:#8c8c8c;z-index:4;"></div>
<div class="a" style="left:57.3px;top:440.3px;width:18.3px;height:21.1px;background:#e30613;z-index:5;"></div>
<div class="a f" style="left:66.5px;top:439.8px;justify-content:center;z-index:6"><span style="font-size:20.5px;line-height:20.5px;color:#fff;font-weight:700;-webkit-text-stroke:0.9px #fff;transform:scaleX(0.970);transform-origin:center">2</span></div>
<div class="a f" style="left:81.9px;top:443.7px;justify-content:flex-start;z-index:5"><span style="font-size:13.6px;line-height:13.6px;color:#1d1d1b;font-weight:700;transform:scaleX(0.920);transform-origin:left">Scrivi in cifre i seguenti numeri:</span></div>
<div class="a f" style="left:294.0px;top:472.3px;justify-content:flex-end;z-index:5"><span style="font-size:13.4px;line-height:13.4px;color:#333231;transform:scaleX(0.915);transform-origin:right">Ottocentomila</span></div>
<svg class="a" style="left:297.8px;top:474.6px;z-index:4;" width="13" height="9" viewBox="0 0 13 9"><path d="M0.5 2.6H6.5V0L12.5 4.5L6.5 9V6.4H0.5Z" fill="#f9b200"/></svg>
<div class="a" style="left:314.0px;top:482.3px;width:75.0px;height:1.4px;background-image:radial-gradient(circle,#b0b0b0 0.6px,transparent 1.1px);background-size:3.0px 1.4px;z-index:3"></div>
<div class="a f" style="left:294.0px;top:497.8px;justify-content:flex-end;z-index:5"><span style="font-size:13.4px;line-height:13.4px;color:#333231;transform:scaleX(0.915);transform-origin:right">Tremiliardiottocento milioni</span></div>
<svg class="a" style="left:297.8px;top:500.1px;z-index:4;" width="13" height="9" viewBox="0 0 13 9"><path d="M0.5 2.6H6.5V0L12.5 4.5L6.5 9V6.4H0.5Z" fill="#f9b200"/></svg>
<div class="a" style="left:314.0px;top:507.8px;width:75.0px;height:1.4px;background-image:radial-gradient(circle,#b0b0b0 0.6px,transparent 1.1px);background-size:3.0px 1.4px;z-index:3"></div>
<div class="a f" style="left:294.0px;top:523.3px;justify-content:flex-end;z-index:5"><span style="font-size:13.4px;line-height:13.4px;color:#333231;transform:scaleX(0.915);transform-origin:right">Undicimiliardiseicentonovanta milioni</span></div>
<svg class="a" style="left:297.8px;top:525.6px;z-index:4;" width="13" height="9" viewBox="0 0 13 9"><path d="M0.5 2.6H6.5V0L12.5 4.5L6.5 9V6.4H0.5Z" fill="#f9b200"/></svg>
<div class="a" style="left:314.0px;top:533.3px;width:75.0px;height:1.4px;background-image:radial-gradient(circle,#b0b0b0 0.6px,transparent 1.1px);background-size:3.0px 1.4px;z-index:3"></div>
<div class="a f" style="left:294.0px;top:548.8px;justify-content:flex-end;z-index:5"><span style="font-size:13.4px;line-height:13.4px;color:#333231;transform:scaleX(0.915);transform-origin:right">Ottocentocinquantamilionicinquecentomila</span></div>
<svg class="a" style="left:297.8px;top:551.1px;z-index:4;" width="13" height="9" viewBox="0 0 13 9"><path d="M0.5 2.6H6.5V0L12.5 4.5L6.5 9V6.4H0.5Z" fill="#f9b200"/></svg>
<div class="a" style="left:314.0px;top:558.8px;width:75.0px;height:1.4px;background-image:radial-gradient(circle,#b0b0b0 0.6px,transparent 1.1px);background-size:3.0px 1.4px;z-index:3"></div>
<div class="a f" style="left:294.0px;top:574.3px;justify-content:flex-end;z-index:5"><span style="font-size:13.4px;line-height:13.4px;color:#333231;transform:scaleX(0.915);transform-origin:right">Settecentoventimila</span></div>
<svg class="a" style="left:297.8px;top:576.6px;z-index:4;" width="13" height="9" viewBox="0 0 13 9"><path d="M0.5 2.6H6.5V0L12.5 4.5L6.5 9V6.4H0.5Z" fill="#f9b200"/></svg>
<div class="a" style="left:314.0px;top:584.3px;width:75.0px;height:1.4px;background-image:radial-gradient(circle,#b0b0b0 0.6px,transparent 1.1px);background-size:3.0px 1.4px;z-index:3"></div>
<div class="a" style="left:413.7px;top:441.0px;width:1.4px;height:144.5px;background:#f9c33a;z-index:2;"></div>
<div class="a" style="left:440.8px;top:439.9px;width:1.4px;height:21.6px;background:#8c8c8c;z-index:4;"></div>
<div class="a" style="left:440.8px;top:460.4px;width:3.0px;height:1.1px;background:#8c8c8c;z-index:4;"></div>
<div class="a" style="left:443.6px;top:440.1px;width:18.3px;height:21.4px;background:#e30613;z-index:5;"></div>
<div class="a f" style="left:452.8px;top:439.9px;justify-content:center;z-index:6"><span style="font-size:20.5px;line-height:20.5px;color:#fff;font-weight:700;-webkit-text-stroke:0.9px #fff;transform:scaleX(0.970);transform-origin:center">3</span></div>
<div class="a f" style="left:468.2px;top:443.7px;justify-content:flex-start;z-index:5"><span style="font-size:13.6px;line-height:13.6px;color:#1d1d1b;font-weight:700;transform:scaleX(0.877);transform-origin:left">Indica il valore della cifra in rosso.</span></div>
<div class="a f" style="left:504.4px;top:471.9px;justify-content:flex-end;z-index:5"><span style="font-size:14px;line-height:14px;color:#333231;transform:scaleX(0.895);transform-origin:right">72&#8198;956&#8198;<b style="color:#e30613">5</b>65</span></div>
<svg class="a" style="left:510.4px;top:474.8px;z-index:4;" width="13" height="9" viewBox="0 0 13 9"><path d="M0.5 2.6H6.5V0L12.5 4.5L6.5 9V6.4H0.5Z" fill="#f9b200"/></svg>
<div class="a" style="left:528.0px;top:482.9px;width:135.0px;height:1.4px;background-image:radial-gradient(circle,#b0b0b0 0.6px,transparent 1.1px);background-size:3.0px 1.4px;z-index:3"></div>
<div class="a f" style="left:504.4px;top:497.4px;justify-content:flex-end;z-index:5"><span style="font-size:14px;line-height:14px;color:#333231;transform:scaleX(0.895);transform-origin:right">4<b style="color:#e30613">5</b>&#8198;807&#8198;400</span></div>
<svg class="a" style="left:510.4px;top:500.25px;z-index:4;" width="13" height="9" viewBox="0 0 13 9"><path d="M0.5 2.6H6.5V0L12.5 4.5L6.5 9V6.4H0.5Z" fill="#f9b200"/></svg>
<div class="a" style="left:528.0px;top:508.4px;width:135.0px;height:1.4px;background-image:radial-gradient(circle,#b0b0b0 0.6px,transparent 1.1px);background-size:3.0px 1.4px;z-index:3"></div>
<div class="a f" style="left:504.4px;top:522.8px;justify-content:flex-end;z-index:5"><span style="font-size:14px;line-height:14px;color:#333231;transform:scaleX(0.895);transform-origin:right">76&#8198;<b style="color:#e30613">6</b>50&#8198;500</span></div>
<svg class="a" style="left:510.4px;top:525.7px;z-index:4;" width="13" height="9" viewBox="0 0 13 9"><path d="M0.5 2.6H6.5V0L12.5 4.5L6.5 9V6.4H0.5Z" fill="#f9b200"/></svg>
<div class="a" style="left:528.0px;top:533.8px;width:135.0px;height:1.4px;background-image:radial-gradient(circle,#b0b0b0 0.6px,transparent 1.1px);background-size:3.0px 1.4px;z-index:3"></div>
<div class="a f" style="left:504.4px;top:548.3px;justify-content:flex-end;z-index:5"><span style="font-size:14px;line-height:14px;color:#333231;transform:scaleX(0.895);transform-origin:right">2&#8198;3<b style="color:#e30613">4</b>5&#8198;000</span></div>
<svg class="a" style="left:510.4px;top:551.15px;z-index:4;" width="13" height="9" viewBox="0 0 13 9"><path d="M0.5 2.6H6.5V0L12.5 4.5L6.5 9V6.4H0.5Z" fill="#f9b200"/></svg>
<div class="a" style="left:528.0px;top:559.2px;width:135.0px;height:1.4px;background-image:radial-gradient(circle,#b0b0b0 0.6px,transparent 1.1px);background-size:3.0px 1.4px;z-index:3"></div>
<div class="a f" style="left:504.4px;top:573.7px;justify-content:flex-end;z-index:5"><span style="font-size:14px;line-height:14px;color:#333231;transform:scaleX(0.895);transform-origin:right">4&#8198;23<b style="color:#e30613">7</b>&#8198;000</span></div>
<svg class="a" style="left:510.4px;top:576.6px;z-index:4;" width="13" height="9" viewBox="0 0 13 9"><path d="M0.5 2.6H6.5V0L12.5 4.5L6.5 9V6.4H0.5Z" fill="#f9b200"/></svg>
<div class="a" style="left:528.0px;top:584.7px;width:135.0px;height:1.4px;background-image:radial-gradient(circle,#b0b0b0 0.6px,transparent 1.1px);background-size:3.0px 1.4px;z-index:3"></div>
<div class="a" style="left:54.8px;top:606.6px;width:1.4px;height:21.0px;background:#8c8c8c;z-index:4;"></div>
<div class="a" style="left:54.8px;top:626.5px;width:3.0px;height:1.1px;background:#8c8c8c;z-index:4;"></div>
<div class="a" style="left:57.6px;top:606.8px;width:18.2px;height:20.8px;background:#e30613;z-index:5;"></div>
<div class="a f" style="left:66.7px;top:606.0px;justify-content:center;z-index:6"><span style="font-size:20.5px;line-height:20.5px;color:#fff;font-weight:700;-webkit-text-stroke:0.9px #fff;transform:scaleX(0.970);transform-origin:center">4</span></div>
<div class="a f" style="left:81.5px;top:609.8px;justify-content:flex-start;z-index:5"><span style="font-size:13.6px;line-height:13.6px;color:#1d1d1b;font-weight:700;transform:scaleX(0.937);transform-origin:left">Componi i numeri.</span></div>
<div class="a f" style="left:185.8px;top:647.3px;justify-content:flex-end;z-index:5"><span style="font-size:14px;line-height:14px;color:#333231;transform:scaleX(0.953);transform-origin:right">4 M + 450 k + 700 u =</span></div>
<div class="a" style="left:189.4px;top:658.2px;width:85.0px;height:1.4px;background-image:radial-gradient(circle,#b0b0b0 0.6px,transparent 1.1px);background-size:3.0px 1.4px;z-index:3"></div>
<div class="a f" style="left:185.8px;top:672.9px;justify-content:flex-end;z-index:5"><span style="font-size:14px;line-height:14px;color:#333231;transform:scaleX(0.950);transform-origin:right">15 M + 5 k + 2 h =</span></div>
<div class="a" style="left:189.4px;top:683.7px;width:85.0px;height:1.4px;background-image:radial-gradient(circle,#b0b0b0 0.6px,transparent 1.1px);background-size:3.0px 1.4px;z-index:3"></div>
<div class="a f" style="left:185.8px;top:698.4px;justify-content:flex-end;z-index:5"><span style="font-size:14px;line-height:14px;color:#333231;transform:scaleX(0.950);transform-origin:right">45 k + 634 u =</span></div>
<div class="a" style="left:189.4px;top:709.3px;width:85.0px;height:1.4px;background-image:radial-gradient(circle,#b0b0b0 0.6px,transparent 1.1px);background-size:3.0px 1.4px;z-index:3"></div>
<div class="a f" style="left:185.8px;top:724.0px;justify-content:flex-end;z-index:5"><span style="font-size:14px;line-height:14px;color:#333231;transform:scaleX(0.950);transform-origin:right">7 M + 600 u =</span></div>
<div class="a" style="left:189.4px;top:734.8px;width:85.0px;height:1.4px;background-image:radial-gradient(circle,#b0b0b0 0.6px,transparent 1.1px);background-size:3.0px 1.4px;z-index:3"></div>
<div class="a f" style="left:185.8px;top:749.5px;justify-content:flex-end;z-index:5"><span style="font-size:14px;line-height:14px;color:#333231;transform:scaleX(0.950);transform-origin:right">86 M + 25 k + 6 da =</span></div>
<div class="a" style="left:189.4px;top:760.4px;width:85.0px;height:1.4px;background-image:radial-gradient(circle,#b0b0b0 0.6px,transparent 1.1px);background-size:3.0px 1.4px;z-index:3"></div>
<div class="a f" style="left:185.8px;top:775.1px;justify-content:flex-end;z-index:5"><span style="font-size:14px;line-height:14px;color:#333231;transform:scaleX(0.950);transform-origin:right">54 k + 15 da =</span></div>
<div class="a" style="left:189.4px;top:785.9px;width:85.0px;height:1.4px;background-image:radial-gradient(circle,#b0b0b0 0.6px,transparent 1.1px);background-size:3.0px 1.4px;z-index:3"></div>
<div class="a f" style="left:185.8px;top:800.6px;justify-content:flex-end;z-index:5"><span style="font-size:14px;line-height:14px;color:#333231;transform:scaleX(0.950);transform-origin:right">3 M + 32 k + 4 h =</span></div>
<div class="a" style="left:189.4px;top:811.5px;width:85.0px;height:1.4px;background-image:radial-gradient(circle,#b0b0b0 0.6px,transparent 1.1px);background-size:3.0px 1.4px;z-index:3"></div>
<div class="a" style="left:305.3px;top:606.0px;width:1.4px;height:206.8px;background:#f9c33a;z-index:2;"></div>
<div class="a" style="left:338.8px;top:606.6px;width:1.4px;height:21.2px;background:#8c8c8c;z-index:4;"></div>
<div class="a" style="left:338.8px;top:626.7px;width:3.0px;height:1.1px;background:#8c8c8c;z-index:4;"></div>
<div class="a" style="left:341.6px;top:606.8px;width:18.2px;height:21.0px;background:#e30613;z-index:5;"></div>
<div class="a f" style="left:350.7px;top:606.2px;justify-content:center;z-index:6"><span style="font-size:20.5px;line-height:20.5px;color:#fff;font-weight:700;-webkit-text-stroke:0.9px #fff;transform:scaleX(0.970);transform-origin:center">5</span></div>
<div class="a f" style="left:365.7px;top:609.8px;justify-content:flex-start;z-index:5"><span style="font-size:13.6px;line-height:13.6px;color:#1d1d1b;font-weight:700;transform:scaleX(0.920);transform-origin:left">Completa le tabelle secondo le indicazioni:</span></div>
<svg class="a" style="left:330.6px;top:625px;z-index:4;" width="160" height="45" viewBox="0 0 160 45"><path d="M12.4 36.0 C14.9 33.8 20.9 26.7 27.2 22.8 C33.5 18.9 40.6 15.0 50.1 12.6 C59.6 10.2 72.9 8.2 84.3 8.2 C95.7 8.2 110.0 10.9 118.6 12.6 C127.2 14.3 131.8 16.7 135.7 18.3 C139.6 19.9 140.9 21.4 141.9 22.0" stroke="#1d1d1b" stroke-width="1.7" fill="none" stroke-dasharray="3 2.1"/><path d="M148.4 25.5 L138.9 23.6 L144.0 16.6 Z" fill="#1d1d1b"/></svg>
<svg class="a" style="left:347.6px;top:640px;z-index:3;" width="139" height="28" viewBox="0 0 139 28"><path d="M0 27 A83.2 59.3 0 0 1 138.7 27 Z" fill="#ef8bb0"/></svg>
<div class="a f" style="left:417.0px;top:646.2px;justify-content:center;z-index:6"><span style="font-size:15.5px;line-height:15.5px;color:#fff;font-weight:700;transform:scaleX(1.011);transform-origin:center">+1 hk</span></div>
<div class="a" style="left:338.6px;top:666.0px;width:156.5px;height:1.6px;background:#cfcfcf;z-index:2;"></div>
<div class="a" style="left:417.9px;top:667.8px;width:77.2px;height:23.5px;background:#fde6eb;z-index:2;"></div>
<div class="a" style="left:421.9px;top:688.7px;width:69.2px;height:1.4px;background-image:radial-gradient(circle,#b0b0b0 0.6px,transparent 1.1px);background-size:3.0px 1.4px;z-index:3"></div>
<div class="a" style="left:338.6px;top:690.9px;width:78.3px;height:1.4px;background:#8d8d8d;z-index:4;"></div>
<div class="a f" style="left:378.4px;top:673.2px;justify-content:center;z-index:5"><span style="font-size:14px;line-height:14px;color:#333231;transform:scaleX(0.890);transform-origin:center">231&#8198;409</span></div>
<div class="a" style="left:421.9px;top:712.8px;width:69.2px;height:1.4px;background-image:radial-gradient(circle,#b0b0b0 0.6px,transparent 1.1px);background-size:3.0px 1.4px;z-index:3"></div>
<div class="a" style="left:338.6px;top:715.0px;width:78.3px;height:1.4px;background:#8d8d8d;z-index:4;"></div>
<div class="a f" style="left:378.4px;top:697.3px;justify-content:center;z-index:5"><span style="font-size:14px;line-height:14px;color:#333231;transform:scaleX(0.890);transform-origin:center">937&#8198;546</span></div>
<div class="a" style="left:417.9px;top:716.0px;width:77.2px;height:23.5px;background:#fde6eb;z-index:2;"></div>
<div class="a" style="left:421.9px;top:736.9px;width:69.2px;height:1.4px;background-image:radial-gradient(circle,#b0b0b0 0.6px,transparent 1.1px);background-size:3.0px 1.4px;z-index:3"></div>
<div class="a" style="left:338.6px;top:739.1px;width:78.3px;height:1.4px;background:#8d8d8d;z-index:4;"></div>
<div class="a f" style="left:378.4px;top:721.4px;justify-content:center;z-index:5"><span style="font-size:14px;line-height:14px;color:#333231;transform:scaleX(0.890);transform-origin:center">3&#8198;945&#8198;600</span></div>
<div class="a" style="left:421.9px;top:761.0px;width:69.2px;height:1.4px;background-image:radial-gradient(circle,#b0b0b0 0.6px,transparent 1.1px);background-size:3.0px 1.4px;z-index:3"></div>
<div class="a" style="left:338.6px;top:763.2px;width:78.3px;height:1.4px;background:#8d8d8d;z-index:4;"></div>
<div class="a f" style="left:378.4px;top:745.5px;justify-content:center;z-index:5"><span style="font-size:14px;line-height:14px;color:#333231;transform:scaleX(0.890);transform-origin:center">56&#8198;740</span></div>
<div class="a" style="left:417.9px;top:764.2px;width:77.2px;height:23.5px;background:#fde6eb;z-index:2;"></div>
<div class="a" style="left:421.9px;top:785.1px;width:69.2px;height:1.4px;background-image:radial-gradient(circle,#b0b0b0 0.6px,transparent 1.1px);background-size:3.0px 1.4px;z-index:3"></div>
<div class="a" style="left:338.6px;top:787.3px;width:78.3px;height:1.4px;background:#8d8d8d;z-index:4;"></div>
<div class="a f" style="left:378.4px;top:769.6px;justify-content:center;z-index:5"><span style="font-size:14px;line-height:14px;color:#333231;transform:scaleX(0.890);transform-origin:center">70&#8198;900&#8198;000</span></div>
<div class="a" style="left:421.9px;top:809.2px;width:69.2px;height:1.4px;background-image:radial-gradient(circle,#b0b0b0 0.6px,transparent 1.1px);background-size:3.0px 1.4px;z-index:3"></div>
<div class="a f" style="left:378.4px;top:793.7px;justify-content:center;z-index:5"><span style="font-size:14px;line-height:14px;color:#333231;transform:scaleX(0.890);transform-origin:center">169&#8198;956&#8198;990</span></div>
<div class="a" style="left:416.2px;top:666.8px;width:1.4px;height:146.0px;background:#8d8d8d;z-index:4;"></div>
<div class="a" style="left:416.9px;top:812.0px;width:78.2px;height:1.6px;background:#ef8bb0;z-index:4;"></div>
<svg class="a" style="left:497.9px;top:625px;z-index:4;" width="160" height="45" viewBox="0 0 160 45"><path d="M12.4 36.0 C14.9 33.8 20.9 26.7 27.2 22.8 C33.5 18.9 40.6 15.0 50.1 12.6 C59.6 10.2 72.9 8.2 84.3 8.2 C95.7 8.2 110.0 10.9 118.6 12.6 C127.2 14.3 131.8 16.7 135.7 18.3 C139.6 19.9 140.9 21.4 141.9 22.0" stroke="#1d1d1b" stroke-width="1.7" fill="none" stroke-dasharray="3 2.1"/><path d="M148.4 25.5 L138.9 23.6 L144.0 16.6 Z" fill="#1d1d1b"/></svg>
<svg class="a" style="left:515px;top:640px;z-index:3;" width="139" height="28" viewBox="0 0 139 28"><path d="M0 27 A83.2 59.3 0 0 1 138.7 27 Z" fill="#77b82a"/></svg>
<div class="a f" style="left:584.4px;top:646.2px;justify-content:center;z-index:6"><span style="font-size:15.5px;line-height:15.5px;color:#fff;font-weight:700;transform:scaleX(1.022);transform-origin:center">–1 uk</span></div>
<div class="a" style="left:505.9px;top:666.0px;width:156.5px;height:1.6px;background:#cfcfcf;z-index:2;"></div>
<div class="a" style="left:585.1px;top:667.8px;width:77.3px;height:23.5px;background:#e1e9b7;z-index:2;"></div>
<div class="a" style="left:589.1px;top:688.7px;width:69.3px;height:1.4px;background-image:radial-gradient(circle,#b0b0b0 0.6px,transparent 1.1px);background-size:3.0px 1.4px;z-index:3"></div>
<div class="a" style="left:505.9px;top:690.9px;width:78.2px;height:1.4px;background:#8d8d8d;z-index:4;"></div>
<div class="a f" style="left:545.6px;top:673.2px;justify-content:center;z-index:5"><span style="font-size:14px;line-height:14px;color:#333231;transform:scaleX(0.890);transform-origin:center">4&#8198;000&#8198;000</span></div>
<div class="a" style="left:589.1px;top:712.8px;width:69.3px;height:1.4px;background-image:radial-gradient(circle,#b0b0b0 0.6px,transparent 1.1px);background-size:3.0px 1.4px;z-index:3"></div>
<div class="a" style="left:505.9px;top:715.0px;width:78.2px;height:1.4px;background:#8d8d8d;z-index:4;"></div>
<div class="a f" style="left:545.6px;top:697.3px;justify-content:center;z-index:5"><span style="font-size:14px;line-height:14px;color:#333231;transform:scaleX(0.890);transform-origin:center">2&#8198;341&#8198;056</span></div>
<div class="a" style="left:585.1px;top:716.0px;width:77.3px;height:23.5px;background:#e1e9b7;z-index:2;"></div>
<div class="a" style="left:589.1px;top:736.9px;width:69.3px;height:1.4px;background-image:radial-gradient(circle,#b0b0b0 0.6px,transparent 1.1px);background-size:3.0px 1.4px;z-index:3"></div>
<div class="a" style="left:505.9px;top:739.1px;width:78.2px;height:1.4px;background:#8d8d8d;z-index:4;"></div>
<div class="a f" style="left:545.6px;top:721.4px;justify-content:center;z-index:5"><span style="font-size:14px;line-height:14px;color:#333231;transform:scaleX(0.890);transform-origin:center">490&#8198;007</span></div>
<div class="a" style="left:589.1px;top:761.0px;width:69.3px;height:1.4px;background-image:radial-gradient(circle,#b0b0b0 0.6px,transparent 1.1px);background-size:3.0px 1.4px;z-index:3"></div>
<div class="a" style="left:505.9px;top:763.2px;width:78.2px;height:1.4px;background:#8d8d8d;z-index:4;"></div>
<div class="a f" style="left:545.6px;top:745.5px;justify-content:center;z-index:5"><span style="font-size:14px;line-height:14px;color:#333231;transform:scaleX(0.890);transform-origin:center">14&#8198;520&#8198;650</span></div>
<div class="a" style="left:585.1px;top:764.2px;width:77.3px;height:23.5px;background:#e1e9b7;z-index:2;"></div>
<div class="a" style="left:589.1px;top:785.1px;width:69.3px;height:1.4px;background-image:radial-gradient(circle,#b0b0b0 0.6px,transparent 1.1px);background-size:3.0px 1.4px;z-index:3"></div>
<div class="a" style="left:505.9px;top:787.3px;width:78.2px;height:1.4px;background:#8d8d8d;z-index:4;"></div>
<div class="a f" style="left:545.6px;top:769.6px;justify-content:center;z-index:5"><span style="font-size:14px;line-height:14px;color:#333231;transform:scaleX(0.890);transform-origin:center">20&#8198;000&#8198;000</span></div>
<div class="a" style="left:589.1px;top:809.2px;width:69.3px;height:1.4px;background-image:radial-gradient(circle,#b0b0b0 0.6px,transparent 1.1px);background-size:3.0px 1.4px;z-index:3"></div>
<div class="a f" style="left:545.6px;top:793.7px;justify-content:center;z-index:5"><span style="font-size:14px;line-height:14px;color:#333231;transform:scaleX(0.890);transform-origin:center">340&#8198;750</span></div>
<div class="a" style="left:583.4px;top:666.8px;width:1.4px;height:146.0px;background:#8d8d8d;z-index:4;"></div>
<div class="a" style="left:584.1px;top:812.0px;width:78.3px;height:1.6px;background:#77b82a;z-index:4;"></div>
<div class="a" style="left:0.0px;top:824.0px;width:60.0px;height:1.0px;background:#9d9d9c;z-index:2;"></div>
<svg class="a" style="left:36.4px;top:823.5px;z-index:3;" width="20" height="6" viewBox="0 0 20 6"><path d="M0 0.5 H20 L10 5.5 Z" fill="#e30613"/></svg>
<div class="a f" style="left:46.7px;top:830.7px;justify-content:center;z-index:5"><span style="font-size:14px;line-height:14px;color:#1d1d1b;-webkit-text-stroke:0.2px #1d1d1b;transform:scaleX(0.920);transform-origin:center">90</span></div>
<svg class="a" style="left:1395px;top:0px;z-index:2;" width="50" height="114" viewBox="0 0 50 114"><path d="M50 0 H13.6 L3.6 101.5 Q3.2 107.6 9 108 L50 112.5 Z" fill="#e30613"/></svg>
<div class="a" style="left:1410px;top:42px;width:13.5px;height:63px;z-index:4;overflow:visible"><div style="position:absolute;left:13.5px;top:0;width:63px;height:13.5px;transform:rotate(90deg);transform-origin:0 0;display:flex;justify-content:center;align-items:center"><span style="font:700 17.5px/13px 'Liberation Sans',sans-serif;color:#fff;transform:scaleX(0.55);white-space:nowrap;display:inline-block;margin-top:1px">MATEMATICA</span></div></div>
<svg class="a" style="left:1411.5px;top:21px;z-index:4;" width="13" height="16" viewBox="0 0 13 16"><g transform="rotate(-3 6 7.5)"><rect x="0" y="0" width="12" height="15" rx="1" fill="#f9b800"/><rect x="2" y="2" width="8" height="3" fill="#e30613"/><g fill="#e30613"><circle cx="3.3" cy="7.6" r="0.9"/><circle cx="6" cy="7.6" r="0.9"/><circle cx="8.7" cy="7.6" r="0.9"/><circle cx="3.3" cy="10.2" r="0.9"/><circle cx="6" cy="10.2" r="0.9"/><circle cx="8.7" cy="10.2" r="0.9"/><circle cx="3.3" cy="12.8" r="0.9"/><circle cx="6" cy="12.8" r="0.9"/><circle cx="8.7" cy="12.8" r="0.9"/></g></g></svg>
<div class="a" style="left:782.4px;top:26.6px;width:607.6px;height:1.6px;background:#e4262b;z-index:2;"></div>
<div class="a" style="left:782.4px;top:43.3px;width:607.6px;height:2.0px;background:#e4262b;z-index:2;"></div>
<div class="a" style="left:832.7px;top:27.4px;width:120.3px;height:17.0px;background:#e30613;z-index:3;"></div>
<div class="a f" style="left:782.9px;top:29.2px;justify-content:flex-start;z-index:5"><span style="font-size:13.5px;line-height:13.5px;color:#1d1d1b;font-weight:700;transform:scaleX(0.830);transform-origin:left">Numeri</span></div>
<div class="a f" style="left:842.7px;top:28.8px;justify-content:flex-start;z-index:5"><span style="font-size:14.6px;line-height:14.6px;color:#fff;font-weight:700;letter-spacing:0.3px;-webkit-text-stroke:0.3px #fff;transform:scaleX(0.742);transform-origin:left">Quattro operazioni</span></div>
<div class="a f" style="left:1059.0px;top:29.4px;justify-content:flex-start;z-index:5"><span style="font-size:13.5px;line-height:13.5px;color:#1d1d1b;font-weight:700;transform:scaleX(0.878);transform-origin:left">p. 222</span></div>
<svg class="a" style="left:782.4px;top:45px;z-index:1" width="607.6" height="22" viewBox="0 0 607.6 22"><path d="M0 0 H607.6 V18.5 C486.08000000000004 19.8 364.56 18.2 273.42 19.6 C182.28 20.5 91.14 18.8 0 19.8 Z" fill="#fde58e"/></svg>
<div class="a f" style="left:796.0px;top:50.2px;justify-content:flex-start;z-index:5"><span style="font-size:13.4px;line-height:13.4px;color:#e30613;font-weight:700;transform:scaleX(0.947);transform-origin:left">Competenza</span></div>
<div class="a" style="left:879.0px;top:52.0px;width:10.0px;height:9.8px;background:#e30613;z-index:3;"></div>
<svg class="a" style="left:879px;top:52px;z-index:4;" width="10" height="10" viewBox="0 0 10 10"><path d="M2 5 H6 M4.2 2.6 L6.8 5 L4.2 7.4" stroke="#fff" stroke-width="1.6" fill="none" stroke-linecap="square"/></svg>
<div class="a f" style="left:893.3px;top:50.5px;justify-content:flex-start;z-index:5"><span style="font-size:12.4px;line-height:12.4px;color:#3d3a2e;font-style:italic;transform:scaleX(0.879);transform-origin:left">Conosco e opero con calcoli mentali fino ai miliardi.</span></div>
<svg class="a" style="left:956.0px;top:0px;z-index:6;" width="100" height="50" viewBox="0 0 100 50"><g transform="translate(10.3,21.3) rotate(5.6)"><path d="M1.5 0 H73.4 L84 8.6 L73.4 17.1 H1.5 Q0 17.1 0 15.6 V1.5 Q0 0 1.5 0 Z" fill="#7f8fa6" opacity="0.28" transform="translate(1.2,1.6)"/><path d="M1.5 0 H73.4 L84 8.6 L73.4 17.1 H1.5 Q0 17.1 0 15.6 V1.5 Q0 0 1.5 0 Z" fill="#f7b500"/><circle cx="11.4" cy="8.0" r="5.7" fill="#e30613"/><circle cx="11.4" cy="8.0" r="2.3" fill="#fff"/><text x="22.3" y="13.9" font-family="Liberation Sans" font-weight="700" font-size="14.2" fill="#fff" textLength="51" lengthAdjust="spacingAndGlyphs">SUSSIDIARIO</text></g><path d="M3.4 -1 L20.1 30.2" stroke="#8d8d8d" stroke-width="2.6" fill="none"/><path d="M3.4 -1 L20.1 30.2" stroke="#e6e6e6" stroke-width="0.9" fill="none"/></svg>
<div class="a f" style="left:987.2px;top:84.7px;justify-content:flex-start;z-index:5"><span style="font-size:28px;line-height:28px;color:#e30613;font-weight:700;-webkit-text-stroke:0.9px #e30613;transform:scaleX(0.919);transform-origin:left">Numeri decimali</span></div>
<div class="a" style="left:782.3px;top:125.3px;width:1.4px;height:20.6px;background:#8c8c8c;z-index:4;"></div>
<div class="a" style="left:782.3px;top:144.8px;width:3.0px;height:1.1px;background:#8c8c8c;z-index:4;"></div>
<div class="a" style="left:785.1px;top:125.5px;width:18.0px;height:20.4px;background:#e30613;z-index:5;"></div>
<div class="a f" style="left:794.1px;top:124.3px;justify-content:center;z-index:6"><span style="font-size:20.5px;line-height:20.5px;color:#fff;font-weight:700;-webkit-text-stroke:0.9px #fff;transform:scaleX(0.970);transform-origin:center">1</span></div>
<div class="a f" style="left:809.3px;top:128.1px;justify-content:flex-start;z-index:5"><span style="font-size:13.6px;line-height:13.6px;color:#1d1d1b;font-weight:700;transform:scaleX(0.928);transform-origin:left">Inserisci i numeri nella tabella.</span></div>
<div class="a" style="left:782.8px;top:154.0px;width:608.2px;height:25.0px;background:#fff;z-index:2;border:2px solid #f9c846;border-radius:7px;box-sizing:border-box"></div>
<div class="a f" style="left:803.6px;top:160.0px;justify-content:flex-start;z-index:5"><span style="font-size:14.2px;line-height:14.2px;color:#333231;transform:scaleX(0.891);transform-origin:left">3&#8198;456,02</span></div>
<div class="a f" style="left:889.0px;top:160.0px;justify-content:flex-start;z-index:5"><span style="font-size:14.2px;line-height:14.2px;color:#333231;transform:scaleX(0.846);transform-origin:left">2&#8198;079,61</span></div>
<div class="a f" style="left:973.0px;top:160.0px;justify-content:flex-start;z-index:5"><span style="font-size:14.2px;line-height:14.2px;color:#333231;transform:scaleX(0.860);transform-origin:left">1&#8198;420&#8198;384</span></div>
<div class="a f" style="left:1062.0px;top:160.0px;justify-content:flex-start;z-index:5"><span style="font-size:14.2px;line-height:14.2px;color:#333231;transform:scaleX(0.895);transform-origin:left">24&#8198;000,7</span></div>
<div class="a f" style="left:1147.8px;top:160.0px;justify-content:flex-start;z-index:5"><span style="font-size:14.2px;line-height:14.2px;color:#333231;transform:scaleX(0.904);transform-origin:left">25&#8198;409&#8198;000,03</span></div>
<div class="a f" style="left:1264.8px;top:160.0px;justify-content:flex-start;z-index:5"><span style="font-size:14.2px;line-height:14.2px;color:#333231;transform:scaleX(0.880);transform-origin:left">758,97</span></div>
<div class="a f" style="left:1340.7px;top:160.0px;justify-content:flex-start;z-index:5"><span style="font-size:14.2px;line-height:14.2px;color:#333231;transform:scaleX(0.872);transform-origin:left">4&#8198;320</span></div>
<div class="a" style="left:798.4px;top:189.8px;width:111.4px;height:21.0px;background:#77b82a;z-index:3;border-radius:7px 7px 0 0"></div>
<div class="a f" style="left:854.1px;top:194.8px;justify-content:center;z-index:6"><span style="font-size:12.8px;line-height:12.8px;color:#fff;font-weight:700;letter-spacing:0.5px;-webkit-text-stroke:0.35px #fff;transform:scaleX(0.742);transform-origin:center">MILIARDI (G)</span></div>
<div class="a" style="left:911.0px;top:189.8px;width:111.9px;height:21.0px;background:#ee8db1;z-index:3;border-radius:7px 7px 0 0"></div>
<div class="a f" style="left:967.0px;top:194.8px;justify-content:center;z-index:6"><span style="font-size:12.8px;line-height:12.8px;color:#fff;font-weight:700;letter-spacing:0.5px;-webkit-text-stroke:0.35px #fff;transform:scaleX(0.793);transform-origin:center">MILIONI (M)</span></div>
<div class="a" style="left:1024.0px;top:189.8px;width:111.8px;height:21.0px;background:#0069b4;z-index:3;border-radius:7px 7px 0 0"></div>
<div class="a f" style="left:1079.9px;top:194.8px;justify-content:center;z-index:6"><span style="font-size:12.8px;line-height:12.8px;color:#fff;font-weight:700;letter-spacing:0.5px;-webkit-text-stroke:0.35px #fff;transform:scaleX(0.753);transform-origin:center">MIGLIAIA (k)</span></div>
<div class="a" style="left:1136.8px;top:189.8px;width:112.2px;height:21.0px;background:#1d9fe0;z-index:3;border-radius:7px 7px 0 0"></div>
<div class="a f" style="left:1192.9px;top:194.8px;justify-content:center;z-index:6"><span style="font-size:12.8px;line-height:12.8px;color:#fff;font-weight:700;letter-spacing:0.5px;-webkit-text-stroke:0.35px #fff;transform:scaleX(0.707);transform-origin:center">UNITÀ SEMPLICI</span></div>
<div class="a" style="left:1263.2px;top:189.8px;width:112.6px;height:21.0px;background:#f8b900;z-index:3;border-radius:7px 7px 0 0"></div>
<div class="a" style="left:1263.2px;top:209.2px;width:112.6px;height:1.5px;background:#dd9f00;z-index:4;"></div>
<div class="a f" style="left:1319.5px;top:194.8px;justify-content:center;z-index:6"><span style="font-size:12.8px;line-height:12.8px;color:#fff;font-weight:700;letter-spacing:0.5px;-webkit-text-stroke:0.35px #fff;transform:scaleX(0.699);transform-origin:center">PARTE DECIMALE</span></div>
<div class="a" style="left:798.4px;top:210.6px;width:37.2px;height:18.0px;background:#009640;z-index:3;"></div>
<div class="a f" style="left:817.0px;top:213.6px;justify-content:center;z-index:6"><span style="font-size:13px;line-height:13px;color:#fff;font-weight:700">h</span></div>
<div class="a" style="left:835.6px;top:210.6px;width:37.9px;height:18.0px;background:#e30613;z-index:3;"></div>
<div class="a f" style="left:854.5px;top:213.6px;justify-content:center;z-index:6"><span style="font-size:13px;line-height:13px;color:#fff;font-weight:700">da</span></div>
<div class="a" style="left:873.5px;top:210.6px;width:37.5px;height:18.0px;background:#009fe3;z-index:3;"></div>
<div class="a f" style="left:892.2px;top:213.6px;justify-content:center;z-index:6"><span style="font-size:13px;line-height:13px;color:#fff;font-weight:700">u</span></div>
<div class="a" style="left:911.0px;top:210.6px;width:37.5px;height:18.0px;background:#009640;z-index:3;"></div>
<div class="a f" style="left:929.8px;top:213.6px;justify-content:center;z-index:6"><span style="font-size:13px;line-height:13px;color:#fff;font-weight:700">h</span></div>
<div class="a" style="left:948.5px;top:210.6px;width:37.7px;height:18.0px;background:#e30613;z-index:3;"></div>
<div class="a f" style="left:967.4px;top:213.6px;justify-content:center;z-index:6"><span style="font-size:13px;line-height:13px;color:#fff;font-weight:700">da</span></div>
<div class="a" style="left:986.2px;top:210.6px;width:37.7px;height:18.0px;background:#009fe3;z-index:3;"></div>
<div class="a f" style="left:1005.0px;top:213.6px;justify-content:center;z-index:6"><span style="font-size:13px;line-height:13px;color:#fff;font-weight:700">u</span></div>
<div class="a" style="left:1023.9px;top:210.6px;width:37.7px;height:18.0px;background:#009640;z-index:3;"></div>
<div class="a f" style="left:1042.8px;top:213.6px;justify-content:center;z-index:6"><span style="font-size:13px;line-height:13px;color:#fff;font-weight:700">h</span></div>
<div class="a" style="left:1061.6px;top:210.6px;width:37.4px;height:18.0px;background:#e30613;z-index:3;"></div>
<div class="a f" style="left:1080.3px;top:213.6px;justify-content:center;z-index:6"><span style="font-size:13px;line-height:13px;color:#fff;font-weight:700">da</span></div>
<div class="a" style="left:1099.0px;top:210.6px;width:37.8px;height:18.0px;background:#009fe3;z-index:3;"></div>
<div class="a f" style="left:1117.9px;top:213.6px;justify-content:center;z-index:6"><span style="font-size:13px;line-height:13px;color:#fff;font-weight:700">u</span></div>
<div class="a" style="left:1136.8px;top:210.6px;width:37.5px;height:18.0px;background:#009640;z-index:3;"></div>
<div class="a f" style="left:1155.5px;top:213.6px;justify-content:center;z-index:6"><span style="font-size:13px;line-height:13px;color:#fff;font-weight:700">h</span></div>
<div class="a" style="left:1174.3px;top:210.6px;width:37.4px;height:18.0px;background:#e30613;z-index:3;"></div>
<div class="a f" style="left:1193.0px;top:213.6px;justify-content:center;z-index:6"><span style="font-size:13px;line-height:13px;color:#fff;font-weight:700">da</span></div>
<div class="a" style="left:1211.7px;top:210.6px;width:37.3px;height:18.0px;background:#009fe3;z-index:3;"></div>
<div class="a f" style="left:1230.3px;top:213.6px;justify-content:center;z-index:6"><span style="font-size:13px;line-height:13px;color:#fff;font-weight:700">u</span></div>
<div class="a f" style="left:1282.1px;top:214.1px;justify-content:center;z-index:5"><span style="font-size:12.4px;line-height:12.4px;color:#1d1d1b;font-weight:700">d</span></div>
<div class="a f" style="left:1319.6px;top:214.1px;justify-content:center;z-index:5"><span style="font-size:12.4px;line-height:12.4px;color:#1d1d1b;font-weight:700">c</span></div>
<div class="a f" style="left:1357.0px;top:214.1px;justify-content:center;z-index:5"><span style="font-size:12.4px;line-height:12.4px;color:#1d1d1b;font-weight:700">m</span></div>
<div class="a f" style="left:1256.0px;top:213.1px;justify-content:center;z-index:5"><span style="font-size:14px;line-height:14px;color:#1d1d1b;font-weight:700">,</span></div>
<div class="a" style="left:798.4px;top:228.5px;width:36.2px;height:21.1px;background:#e1e9b7;z-index:2;"></div>
<div class="a" style="left:836.6px;top:228.5px;width:35.9px;height:21.1px;background:#e1e9b7;z-index:2;"></div>
<div class="a" style="left:874.5px;top:228.5px;width:35.5px;height:21.1px;background:#e1e9b7;z-index:2;"></div>
<div class="a" style="left:912.0px;top:228.5px;width:35.5px;height:21.1px;background:#fde6eb;z-index:2;"></div>
<div class="a" style="left:949.5px;top:228.5px;width:35.7px;height:21.1px;background:#fde6eb;z-index:2;"></div>
<div class="a" style="left:987.2px;top:228.5px;width:35.7px;height:21.1px;background:#fde6eb;z-index:2;"></div>
<div class="a" style="left:1024.9px;top:228.5px;width:35.7px;height:21.1px;background:#e8ecf8;z-index:2;"></div>
<div class="a" style="left:1062.6px;top:228.5px;width:35.4px;height:21.1px;background:#e8ecf8;z-index:2;"></div>
<div class="a" style="left:1100.0px;top:228.5px;width:35.8px;height:21.1px;background:#e8ecf8;z-index:2;"></div>
<div class="a" style="left:1137.8px;top:228.5px;width:35.5px;height:21.1px;background:#e7f4fc;z-index:2;"></div>
<div class="a" style="left:1175.3px;top:228.5px;width:35.4px;height:21.1px;background:#e7f4fc;z-index:2;"></div>
<div class="a" style="left:1212.7px;top:228.5px;width:35.3px;height:21.1px;background:#e7f4fc;z-index:2;"></div>
<div class="a" style="left:1264.2px;top:228.5px;width:35.7px;height:21.1px;background:#fdf6d9;z-index:2;"></div>
<div class="a" style="left:1301.9px;top:228.5px;width:35.4px;height:21.1px;background:#fdf6d9;z-index:2;"></div>
<div class="a" style="left:1339.3px;top:228.5px;width:35.5px;height:21.1px;background:#fdf6d9;z-index:2;"></div>
<div class="a" style="left:801.4px;top:267.3px;width:31.7px;height:1.4px;background-image:radial-gradient(circle,#b0b0b0 0.6px,transparent 1.1px);background-size:3.0px 1.4px;z-index:3"></div>
<div class="a" style="left:838.6px;top:267.3px;width:32.4px;height:1.4px;background-image:radial-gradient(circle,#b0b0b0 0.6px,transparent 1.1px);background-size:3.0px 1.4px;z-index:3"></div>
<div class="a" style="left:876.5px;top:267.3px;width:32.0px;height:1.4px;background-image:radial-gradient(circle,#b0b0b0 0.6px,transparent 1.1px);background-size:3.0px 1.4px;z-index:3"></div>
<div class="a" style="left:914.0px;top:267.3px;width:32.0px;height:1.4px;background-image:radial-gradient(circle,#b0b0b0 0.6px,transparent 1.1px);background-size:3.0px 1.4px;z-index:3"></div>
<div class="a" style="left:951.5px;top:267.3px;width:32.2px;height:1.4px;background-image:radial-gradient(circle,#b0b0b0 0.6px,transparent 1.1px);background-size:3.0px 1.4px;z-index:3"></div>
<div class="a" style="left:989.2px;top:267.3px;width:32.2px;height:1.4px;background-image:radial-gradient(circle,#b0b0b0 0.6px,transparent 1.1px);background-size:3.0px 1.4px;z-index:3"></div>
<div class="a" style="left:1026.9px;top:267.3px;width:32.2px;height:1.4px;background-image:radial-gradient(circle,#b0b0b0 0.6px,transparent 1.1px);background-size:3.0px 1.4px;z-index:3"></div>
<div class="a" style="left:1064.6px;top:267.3px;width:31.9px;height:1.4px;background-image:radial-gradient(circle,#b0b0b0 0.6px,transparent 1.1px);background-size:3.0px 1.4px;z-index:3"></div>
<div class="a" style="left:1102.0px;top:267.3px;width:32.3px;height:1.4px;background-image:radial-gradient(circle,#b0b0b0 0.6px,transparent 1.1px);background-size:3.0px 1.4px;z-index:3"></div>
<div class="a" style="left:1139.8px;top:267.3px;width:32.0px;height:1.4px;background-image:radial-gradient(circle,#b0b0b0 0.6px,transparent 1.1px);background-size:3.0px 1.4px;z-index:3"></div>
<div class="a" style="left:1177.3px;top:267.3px;width:31.9px;height:1.4px;background-image:radial-gradient(circle,#b0b0b0 0.6px,transparent 1.1px);background-size:3.0px 1.4px;z-index:3"></div>
<div class="a" style="left:1214.7px;top:267.3px;width:31.8px;height:1.4px;background-image:radial-gradient(circle,#b0b0b0 0.6px,transparent 1.1px);background-size:3.0px 1.4px;z-index:3"></div>
<div class="a" style="left:1266.2px;top:267.3px;width:32.2px;height:1.4px;background-image:radial-gradient(circle,#b0b0b0 0.6px,transparent 1.1px);background-size:3.0px 1.4px;z-index:3"></div>
<div class="a" style="left:1303.9px;top:267.3px;width:31.9px;height:1.4px;background-image:radial-gradient(circle,#b0b0b0 0.6px,transparent 1.1px);background-size:3.0px 1.4px;z-index:3"></div>
<div class="a" style="left:1341.3px;top:267.3px;width:32.0px;height:1.4px;background-image:radial-gradient(circle,#b0b0b0 0.6px,transparent 1.1px);background-size:3.0px 1.4px;z-index:3"></div>
<div class="a" style="left:798.4px;top:270.8px;width:36.2px;height:21.1px;background:#e1e9b7;z-index:2;"></div>
<div class="a" style="left:801.4px;top:288.4px;width:31.7px;height:1.4px;background-image:radial-gradient(circle,#b0b0b0 0.6px,transparent 1.1px);background-size:3.0px 1.4px;z-index:3"></div>
<div class="a" style="left:836.6px;top:270.8px;width:35.9px;height:21.1px;background:#e1e9b7;z-index:2;"></div>
<div class="a" style="left:838.6px;top:288.4px;width:32.4px;height:1.4px;background-image:radial-gradient(circle,#b0b0b0 0.6px,transparent 1.1px);background-size:3.0px 1.4px;z-index:3"></div>
<div class="a" style="left:874.5px;top:270.8px;width:35.5px;height:21.1px;background:#e1e9b7;z-index:2;"></div>
<div class="a" style="left:876.5px;top:288.4px;width:32.0px;height:1.4px;background-image:radial-gradient(circle,#b0b0b0 0.6px,transparent 1.1px);background-size:3.0px 1.4px;z-index:3"></div>
<div class="a" style="left:912.0px;top:270.8px;width:35.5px;height:21.1px;background:#fde6eb;z-index:2;"></div>
<div class="a" style="left:914.0px;top:288.4px;width:32.0px;height:1.4px;background-image:radial-gradient(circle,#b0b0b0 0.6px,transparent 1.1px);background-size:3.0px 1.4px;z-index:3"></div>
<div class="a" style="left:949.5px;top:270.8px;width:35.7px;height:21.1px;background:#fde6eb;z-index:2;"></div>
<div class="a" style="left:951.5px;top:288.4px;width:32.2px;height:1.4px;background-image:radial-gradient(circle,#b0b0b0 0.6px,transparent 1.1px);background-size:3.0px 1.4px;z-index:3"></div>
<div class="a" style="left:987.2px;top:270.8px;width:35.7px;height:21.1px;background:#fde6eb;z-index:2;"></div>
<div class="a" style="left:989.2px;top:288.4px;width:32.2px;height:1.4px;background-image:radial-gradient(circle,#b0b0b0 0.6px,transparent 1.1px);background-size:3.0px 1.4px;z-index:3"></div>
<div class="a" style="left:1024.9px;top:270.8px;width:35.7px;height:21.1px;background:#e8ecf8;z-index:2;"></div>
<div class="a" style="left:1026.9px;top:288.4px;width:32.2px;height:1.4px;background-image:radial-gradient(circle,#b0b0b0 0.6px,transparent 1.1px);background-size:3.0px 1.4px;z-index:3"></div>
<div class="a" style="left:1062.6px;top:270.8px;width:35.4px;height:21.1px;background:#e8ecf8;z-index:2;"></div>
<div class="a" style="left:1064.6px;top:288.4px;width:31.9px;height:1.4px;background-image:radial-gradient(circle,#b0b0b0 0.6px,transparent 1.1px);background-size:3.0px 1.4px;z-index:3"></div>
<div class="a" style="left:1100.0px;top:270.8px;width:35.8px;height:21.1px;background:#e8ecf8;z-index:2;"></div>
<div class="a" style="left:1102.0px;top:288.4px;width:32.3px;height:1.4px;background-image:radial-gradient(circle,#b0b0b0 0.6px,transparent 1.1px);background-size:3.0px 1.4px;z-index:3"></div>
<div class="a" style="left:1137.8px;top:270.8px;width:35.5px;height:21.1px;background:#e7f4fc;z-index:2;"></div>
<div class="a" style="left:1139.8px;top:288.4px;width:32.0px;height:1.4px;background-image:radial-gradient(circle,#b0b0b0 0.6px,transparent 1.1px);background-size:3.0px 1.4px;z-index:3"></div>
<div class="a" style="left:1175.3px;top:270.8px;width:35.4px;height:21.1px;background:#e7f4fc;z-index:2;"></div>
<div class="a" style="left:1177.3px;top:288.4px;width:31.9px;height:1.4px;background-image:radial-gradient(circle,#b0b0b0 0.6px,transparent 1.1px);background-size:3.0px 1.4px;z-index:3"></div>
<div class="a" style="left:1212.7px;top:270.8px;width:35.3px;height:21.1px;background:#e7f4fc;z-index:2;"></div>
<div class="a" style="left:1214.7px;top:288.4px;width:31.8px;height:1.4px;background-image:radial-gradient(circle,#b0b0b0 0.6px,transparent 1.1px);background-size:3.0px 1.4px;z-index:3"></div>
<div class="a" style="left:1264.2px;top:270.8px;width:35.7px;height:21.1px;background:#fdf6d9;z-index:2;"></div>
<div class="a" style="left:1266.2px;top:288.4px;width:32.2px;height:1.4px;background-image:radial-gradient(circle,#b0b0b0 0.6px,transparent 1.1px);background-size:3.0px 1.4px;z-index:3"></div>
<div class="a" style="left:1301.9px;top:270.8px;width:35.4px;height:21.1px;background:#fdf6d9;z-index:2;"></div>
<div class="a" style="left:1303.9px;top:288.4px;width:31.9px;height:1.4px;background-image:radial-gradient(circle,#b0b0b0 0.6px,transparent 1.1px);background-size:3.0px 1.4px;z-index:3"></div>
<div class="a" style="left:1339.3px;top:270.8px;width:35.5px;height:21.1px;background:#fdf6d9;z-index:2;"></div>
<div class="a" style="left:1341.3px;top:288.4px;width:32.0px;height:1.4px;background-image:radial-gradient(circle,#b0b0b0 0.6px,transparent 1.1px);background-size:3.0px 1.4px;z-index:3"></div>
<div class="a" style="left:801.4px;top:309.5px;width:31.7px;height:1.4px;background-image:radial-gradient(circle,#b0b0b0 0.6px,transparent 1.1px);background-size:3.0px 1.4px;z-index:3"></div>
<div class="a" style="left:838.6px;top:309.5px;width:32.4px;height:1.4px;background-image:radial-gradient(circle,#b0b0b0 0.6px,transparent 1.1px);background-size:3.0px 1.4px;z-index:3"></div>
<div class="a" style="left:876.5px;top:309.5px;width:32.0px;height:1.4px;background-image:radial-gradient(circle,#b0b0b0 0.6px,transparent 1.1px);background-size:3.0px 1.4px;z-index:3"></div>
<div class="a" style="left:914.0px;top:309.5px;width:32.0px;height:1.4px;background-image:radial-gradient(circle,#b0b0b0 0.6px,transparent 1.1px);background-size:3.0px 1.4px;z-index:3"></div>
<div class="a" style="left:951.5px;top:309.5px;width:32.2px;height:1.4px;background-image:radial-gradient(circle,#b0b0b0 0.6px,transparent 1.1px);background-size:3.0px 1.4px;z-index:3"></div>
<div class="a" style="left:989.2px;top:309.5px;width:32.2px;height:1.4px;background-image:radial-gradient(circle,#b0b0b0 0.6px,transparent 1.1px);background-size:3.0px 1.4px;z-index:3"></div>
<div class="a" style="left:1026.9px;top:309.5px;width:32.2px;height:1.4px;background-image:radial-gradient(circle,#b0b0b0 0.6px,transparent 1.1px);background-size:3.0px 1.4px;z-index:3"></div>
<div class="a" style="left:1064.6px;top:309.5px;width:31.9px;height:1.4px;background-image:radial-gradient(circle,#b0b0b0 0.6px,transparent 1.1px);background-size:3.0px 1.4px;z-index:3"></div>
<div class="a" style="left:1102.0px;top:309.5px;width:32.3px;height:1.4px;background-image:radial-gradient(circle,#b0b0b0 0.6px,transparent 1.1px);background-size:3.0px 1.4px;z-index:3"></div>
<div class="a" style="left:1139.8px;top:309.5px;width:32.0px;height:1.4px;background-image:radial-gradient(circle,#b0b0b0 0.6px,transparent 1.1px);background-size:3.0px 1.4px;z-index:3"></div>
<div class="a" style="left:1177.3px;top:309.5px;width:31.9px;height:1.4px;background-image:radial-gradient(circle,#b0b0b0 0.6px,transparent 1.1px);background-size:3.0px 1.4px;z-index:3"></div>
<div class="a" style="left:1214.7px;top:309.5px;width:31.8px;height:1.4px;background-image:radial-gradient(circle,#b0b0b0 0.6px,transparent 1.1px);background-size:3.0px 1.4px;z-index:3"></div>
<div class="a" style="left:1266.2px;top:309.5px;width:32.2px;height:1.4px;background-image:radial-gradient(circle,#b0b0b0 0.6px,transparent 1.1px);background-size:3.0px 1.4px;z-index:3"></div>
<div class="a" style="left:1303.9px;top:309.5px;width:31.9px;height:1.4px;background-image:radial-gradient(circle,#b0b0b0 0.6px,transparent 1.1px);background-size:3.0px 1.4px;z-index:3"></div>
<div class="a" style="left:1341.3px;top:309.5px;width:32.0px;height:1.4px;background-image:radial-gradient(circle,#b0b0b0 0.6px,transparent 1.1px);background-size:3.0px 1.4px;z-index:3"></div>
<div class="a" style="left:798.4px;top:313.0px;width:36.2px;height:21.1px;background:#e1e9b7;z-index:2;"></div>
<div class="a" style="left:801.4px;top:330.6px;width:31.7px;height:1.4px;background-image:radial-gradient(circle,#b0b0b0 0.6px,transparent 1.1px);background-size:3.0px 1.4px;z-index:3"></div>
<div class="a" style="left:836.6px;top:313.0px;width:35.9px;height:21.1px;background:#e1e9b7;z-index:2;"></div>
<div class="a" style="left:838.6px;top:330.6px;width:32.4px;height:1.4px;background-image:radial-gradient(circle,#b0b0b0 0.6px,transparent 1.1px);background-size:3.0px 1.4px;z-index:3"></div>
<div class="a" style="left:874.5px;top:313.0px;width:35.5px;height:21.1px;background:#e1e9b7;z-index:2;"></div>
<div class="a" style="left:876.5px;top:330.6px;width:32.0px;height:1.4px;background-image:radial-gradient(circle,#b0b0b0 0.6px,transparent 1.1px);background-size:3.0px 1.4px;z-index:3"></div>
<div class="a" style="left:912.0px;top:313.0px;width:35.5px;height:21.1px;background:#fde6eb;z-index:2;"></div>
<div class="a" style="left:914.0px;top:330.6px;width:32.0px;height:1.4px;background-image:radial-gradient(circle,#b0b0b0 0.6px,transparent 1.1px);background-size:3.0px 1.4px;z-index:3"></div>
<div class="a" style="left:949.5px;top:313.0px;width:35.7px;height:21.1px;background:#fde6eb;z-index:2;"></div>
<div class="a" style="left:951.5px;top:330.6px;width:32.2px;height:1.4px;background-image:radial-gradient(circle,#b0b0b0 0.6px,transparent 1.1px);background-size:3.0px 1.4px;z-index:3"></div>
<div class="a" style="left:987.2px;top:313.0px;width:35.7px;height:21.1px;background:#fde6eb;z-index:2;"></div>
<div class="a" style="left:989.2px;top:330.6px;width:32.2px;height:1.4px;background-image:radial-gradient(circle,#b0b0b0 0.6px,transparent 1.1px);background-size:3.0px 1.4px;z-index:3"></div>
<div class="a" style="left:1024.9px;top:313.0px;width:35.7px;height:21.1px;background:#e8ecf8;z-index:2;"></div>
<div class="a" style="left:1026.9px;top:330.6px;width:32.2px;height:1.4px;background-image:radial-gradient(circle,#b0b0b0 0.6px,transparent 1.1px);background-size:3.0px 1.4px;z-index:3"></div>
<div class="a" style="left:1062.6px;top:313.0px;width:35.4px;height:21.1px;background:#e8ecf8;z-index:2;"></div>
<div class="a" style="left:1064.6px;top:330.6px;width:31.9px;height:1.4px;background-image:radial-gradient(circle,#b0b0b0 0.6px,transparent 1.1px);background-size:3.0px 1.4px;z-index:3"></div>
<div class="a" style="left:1100.0px;top:313.0px;width:35.8px;height:21.1px;background:#e8ecf8;z-index:2;"></div>
<div class="a" style="left:1102.0px;top:330.6px;width:32.3px;height:1.4px;background-image:radial-gradient(circle,#b0b0b0 0.6px,transparent 1.1px);background-size:3.0px 1.4px;z-index:3"></div>
<div class="a" style="left:1137.8px;top:313.0px;width:35.5px;height:21.1px;background:#e7f4fc;z-index:2;"></div>
<div class="a" style="left:1139.8px;top:330.6px;width:32.0px;height:1.4px;background-image:radial-gradient(circle,#b0b0b0 0.6px,transparent 1.1px);background-size:3.0px 1.4px;z-index:3"></div>
<div class="a" style="left:1175.3px;top:313.0px;width:35.4px;height:21.1px;background:#e7f4fc;z-index:2;"></div>
<div class="a" style="left:1177.3px;top:330.6px;width:31.9px;height:1.4px;background-image:radial-gradient(circle,#b0b0b0 0.6px,transparent 1.1px);background-size:3.0px 1.4px;z-index:3"></div>
<div class="a" style="left:1212.7px;top:313.0px;width:35.3px;height:21.1px;background:#e7f4fc;z-index:2;"></div>
<div class="a" style="left:1214.7px;top:330.6px;width:31.8px;height:1.4px;background-image:radial-gradient(circle,#b0b0b0 0.6px,transparent 1.1px);background-size:3.0px 1.4px;z-index:3"></div>
<div class="a" style="left:1264.2px;top:313.0px;width:35.7px;height:21.1px;background:#fdf6d9;z-index:2;"></div>
<div class="a" style="left:1266.2px;top:330.6px;width:32.2px;height:1.4px;background-image:radial-gradient(circle,#b0b0b0 0.6px,transparent 1.1px);background-size:3.0px 1.4px;z-index:3"></div>
<div class="a" style="left:1301.9px;top:313.0px;width:35.4px;height:21.1px;background:#fdf6d9;z-index:2;"></div>
<div class="a" style="left:1303.9px;top:330.6px;width:31.9px;height:1.4px;background-image:radial-gradient(circle,#b0b0b0 0.6px,transparent 1.1px);background-size:3.0px 1.4px;z-index:3"></div>
<div class="a" style="left:1339.3px;top:313.0px;width:35.5px;height:21.1px;background:#fdf6d9;z-index:2;"></div>
<div class="a" style="left:1341.3px;top:330.6px;width:32.0px;height:1.4px;background-image:radial-gradient(circle,#b0b0b0 0.6px,transparent 1.1px);background-size:3.0px 1.4px;z-index:3"></div>
<div class="a" style="left:801.4px;top:351.8px;width:31.7px;height:1.4px;background-image:radial-gradient(circle,#b0b0b0 0.6px,transparent 1.1px);background-size:3.0px 1.4px;z-index:3"></div>
<div class="a" style="left:838.6px;top:351.8px;width:32.4px;height:1.4px;background-image:radial-gradient(circle,#b0b0b0 0.6px,transparent 1.1px);background-size:3.0px 1.4px;z-index:3"></div>
<div class="a" style="left:876.5px;top:351.8px;width:32.0px;height:1.4px;background-image:radial-gradient(circle,#b0b0b0 0.6px,transparent 1.1px);background-size:3.0px 1.4px;z-index:3"></div>
<div class="a" style="left:914.0px;top:351.8px;width:32.0px;height:1.4px;background-image:radial-gradient(circle,#b0b0b0 0.6px,transparent 1.1px);background-size:3.0px 1.4px;z-index:3"></div>
<div class="a" style="left:951.5px;top:351.8px;width:32.2px;height:1.4px;background-image:radial-gradient(circle,#b0b0b0 0.6px,transparent 1.1px);background-size:3.0px 1.4px;z-index:3"></div>
<div class="a" style="left:989.2px;top:351.8px;width:32.2px;height:1.4px;background-image:radial-gradient(circle,#b0b0b0 0.6px,transparent 1.1px);background-size:3.0px 1.4px;z-index:3"></div>
<div class="a" style="left:1026.9px;top:351.8px;width:32.2px;height:1.4px;background-image:radial-gradient(circle,#b0b0b0 0.6px,transparent 1.1px);background-size:3.0px 1.4px;z-index:3"></div>
<div class="a" style="left:1064.6px;top:351.8px;width:31.9px;height:1.4px;background-image:radial-gradient(circle,#b0b0b0 0.6px,transparent 1.1px);background-size:3.0px 1.4px;z-index:3"></div>
<div class="a" style="left:1102.0px;top:351.8px;width:32.3px;height:1.4px;background-image:radial-gradient(circle,#b0b0b0 0.6px,transparent 1.1px);background-size:3.0px 1.4px;z-index:3"></div>
<div class="a" style="left:1139.8px;top:351.8px;width:32.0px;height:1.4px;background-image:radial-gradient(circle,#b0b0b0 0.6px,transparent 1.1px);background-size:3.0px 1.4px;z-index:3"></div>
<div class="a" style="left:1177.3px;top:351.8px;width:31.9px;height:1.4px;background-image:radial-gradient(circle,#b0b0b0 0.6px,transparent 1.1px);background-size:3.0px 1.4px;z-index:3"></div>
<div class="a" style="left:1214.7px;top:351.8px;width:31.8px;height:1.4px;background-image:radial-gradient(circle,#b0b0b0 0.6px,transparent 1.1px);background-size:3.0px 1.4px;z-index:3"></div>
<div class="a" style="left:1266.2px;top:351.8px;width:32.2px;height:1.4px;background-image:radial-gradient(circle,#b0b0b0 0.6px,transparent 1.1px);background-size:3.0px 1.4px;z-index:3"></div>
<div class="a" style="left:1303.9px;top:351.8px;width:31.9px;height:1.4px;background-image:radial-gradient(circle,#b0b0b0 0.6px,transparent 1.1px);background-size:3.0px 1.4px;z-index:3"></div>
<div class="a" style="left:1341.3px;top:351.8px;width:32.0px;height:1.4px;background-image:radial-gradient(circle,#b0b0b0 0.6px,transparent 1.1px);background-size:3.0px 1.4px;z-index:3"></div>
<div class="a" style="left:798.4px;top:355.3px;width:36.2px;height:21.1px;background:#e1e9b7;z-index:2;"></div>
<div class="a" style="left:801.4px;top:372.9px;width:31.7px;height:1.4px;background-image:radial-gradient(circle,#b0b0b0 0.6px,transparent 1.1px);background-size:3.0px 1.4px;z-index:3"></div>
<div class="a" style="left:836.6px;top:355.3px;width:35.9px;height:21.1px;background:#e1e9b7;z-index:2;"></div>
<div class="a" style="left:838.6px;top:372.9px;width:32.4px;height:1.4px;background-image:radial-gradient(circle,#b0b0b0 0.6px,transparent 1.1px);background-size:3.0px 1.4px;z-index:3"></div>
<div class="a" style="left:874.5px;top:355.3px;width:35.5px;height:21.1px;background:#e1e9b7;z-index:2;"></div>
<div class="a" style="left:876.5px;top:372.9px;width:32.0px;height:1.4px;background-image:radial-gradient(circle,#b0b0b0 0.6px,transparent 1.1px);background-size:3.0px 1.4px;z-index:3"></div>
<div class="a" style="left:912.0px;top:355.3px;width:35.5px;height:21.1px;background:#fde6eb;z-index:2;"></div>
<div class="a" style="left:914.0px;top:372.9px;width:32.0px;height:1.4px;background-image:radial-gradient(circle,#b0b0b0 0.6px,transparent 1.1px);background-size:3.0px 1.4px;z-index:3"></div>
<div class="a" style="left:949.5px;top:355.3px;width:35.7px;height:21.1px;background:#fde6eb;z-index:2;"></div>
<div class="a" style="left:951.5px;top:372.9px;width:32.2px;height:1.4px;background-image:radial-gradient(circle,#b0b0b0 0.6px,transparent 1.1px);background-size:3.0px 1.4px;z-index:3"></div>
<div class="a" style="left:987.2px;top:355.3px;width:35.7px;height:21.1px;background:#fde6eb;z-index:2;"></div>
<div class="a" style="left:989.2px;top:372.9px;width:32.2px;height:1.4px;background-image:radial-gradient(circle,#b0b0b0 0.6px,transparent 1.1px);background-size:3.0px 1.4px;z-index:3"></div>
<div class="a" style="left:1024.9px;top:355.3px;width:35.7px;height:21.1px;background:#e8ecf8;z-index:2;"></div>
<div class="a" style="left:1026.9px;top:372.9px;width:32.2px;height:1.4px;background-image:radial-gradient(circle,#b0b0b0 0.6px,transparent 1.1px);background-size:3.0px 1.4px;z-index:3"></div>
<div class="a" style="left:1062.6px;top:355.3px;width:35.4px;height:21.1px;background:#e8ecf8;z-index:2;"></div>
<div class="a" style="left:1064.6px;top:372.9px;width:31.9px;height:1.4px;background-image:radial-gradient(circle,#b0b0b0 0.6px,transparent 1.1px);background-size:3.0px 1.4px;z-index:3"></div>
<div class="a" style="left:1100.0px;top:355.3px;width:35.8px;height:21.1px;background:#e8ecf8;z-index:2;"></div>
<div class="a" style="left:1102.0px;top:372.9px;width:32.3px;height:1.4px;background-image:radial-gradient(circle,#b0b0b0 0.6px,transparent 1.1px);background-size:3.0px 1.4px;z-index:3"></div>
<div class="a" style="left:1137.8px;top:355.3px;width:35.5px;height:21.1px;background:#e7f4fc;z-index:2;"></div>
<div class="a" style="left:1139.8px;top:372.9px;width:32.0px;height:1.4px;background-image:radial-gradient(circle,#b0b0b0 0.6px,transparent 1.1px);background-size:3.0px 1.4px;z-index:3"></div>
<div class="a" style="left:1175.3px;top:355.3px;width:35.4px;height:21.1px;background:#e7f4fc;z-index:2;"></div>
<div class="a" style="left:1177.3px;top:372.9px;width:31.9px;height:1.4px;background-image:radial-gradient(circle,#b0b0b0 0.6px,transparent 1.1px);background-size:3.0px 1.4px;z-index:3"></div>
<div class="a" style="left:1212.7px;top:355.3px;width:35.3px;height:21.1px;background:#e7f4fc;z-index:2;"></div>
<div class="a" style="left:1214.7px;top:372.9px;width:31.8px;height:1.4px;background-image:radial-gradient(circle,#b0b0b0 0.6px,transparent 1.1px);background-size:3.0px 1.4px;z-index:3"></div>
<div class="a" style="left:1264.2px;top:355.3px;width:35.7px;height:21.1px;background:#fdf6d9;z-index:2;"></div>
<div class="a" style="left:1266.2px;top:372.9px;width:32.2px;height:1.4px;background-image:radial-gradient(circle,#b0b0b0 0.6px,transparent 1.1px);background-size:3.0px 1.4px;z-index:3"></div>
<div class="a" style="left:1301.9px;top:355.3px;width:35.4px;height:21.1px;background:#fdf6d9;z-index:2;"></div>
<div class="a" style="left:1303.9px;top:372.9px;width:31.9px;height:1.4px;background-image:radial-gradient(circle,#b0b0b0 0.6px,transparent 1.1px);background-size:3.0px 1.4px;z-index:3"></div>
<div class="a" style="left:1339.3px;top:355.3px;width:35.5px;height:21.1px;background:#fdf6d9;z-index:2;"></div>
<div class="a" style="left:1341.3px;top:372.9px;width:32.0px;height:1.4px;background-image:radial-gradient(circle,#b0b0b0 0.6px,transparent 1.1px);background-size:3.0px 1.4px;z-index:3"></div>
<div class="a f" style="left:1117.9px;top:234.8px;justify-content:center;z-index:5"><span style="font-size:13.4px;line-height:13.4px;color:#1589d2;font-style:italic;-webkit-text-stroke:0.35px #1589d2">3</span></div>
<div class="a f" style="left:1155.5px;top:234.8px;justify-content:center;z-index:5"><span style="font-size:13.4px;line-height:13.4px;color:#1589d2;font-style:italic;-webkit-text-stroke:0.35px #1589d2">4</span></div>
<div class="a f" style="left:1193.0px;top:234.8px;justify-content:center;z-index:5"><span style="font-size:13.4px;line-height:13.4px;color:#1589d2;font-style:italic;-webkit-text-stroke:0.35px #1589d2">5</span></div>
<div class="a f" style="left:1230.3px;top:234.8px;justify-content:center;z-index:5"><span style="font-size:13.4px;line-height:13.4px;color:#1589d2;font-style:italic;-webkit-text-stroke:0.35px #1589d2">6</span></div>
<div class="a f" style="left:1255.5px;top:234.2px;justify-content:center;z-index:5"><span style="font-size:14px;line-height:14px;color:#1589d2;font-weight:700;font-style:italic">,</span></div>
<div class="a f" style="left:1282.1px;top:234.8px;justify-content:center;z-index:5"><span style="font-size:13.4px;line-height:13.4px;color:#1589d2;font-style:italic;-webkit-text-stroke:0.35px #1589d2">0</span></div>
<div class="a f" style="left:1319.6px;top:234.8px;justify-content:center;z-index:5"><span style="font-size:13.4px;line-height:13.4px;color:#1589d2;font-style:italic;-webkit-text-stroke:0.35px #1589d2">2</span></div>
<div class="a" style="left:835.0px;top:228.5px;width:1.2px;height:147.9px;background:#7a7a7a;z-index:4;"></div>
<div class="a" style="left:872.9px;top:228.5px;width:1.2px;height:147.9px;background:#7a7a7a;z-index:4;"></div>
<div class="a" style="left:910.4px;top:228.5px;width:1.2px;height:147.9px;background:#7a7a7a;z-index:4;"></div>
<div class="a" style="left:947.9px;top:228.5px;width:1.2px;height:147.9px;background:#7a7a7a;z-index:4;"></div>
<div class="a" style="left:985.6px;top:228.5px;width:1.2px;height:147.9px;background:#7a7a7a;z-index:4;"></div>
<div class="a" style="left:1023.3px;top:228.5px;width:1.2px;height:147.9px;background:#7a7a7a;z-index:4;"></div>
<div class="a" style="left:1061.0px;top:228.5px;width:1.2px;height:147.9px;background:#7a7a7a;z-index:4;"></div>
<div class="a" style="left:1098.4px;top:228.5px;width:1.2px;height:147.9px;background:#7a7a7a;z-index:4;"></div>
<div class="a" style="left:1136.2px;top:228.5px;width:1.2px;height:147.9px;background:#7a7a7a;z-index:4;"></div>
<div class="a" style="left:1173.7px;top:228.5px;width:1.2px;height:147.9px;background:#7a7a7a;z-index:4;"></div>
<div class="a" style="left:1211.1px;top:228.5px;width:1.2px;height:147.9px;background:#7a7a7a;z-index:4;"></div>
<div class="a" style="left:1300.3px;top:210.6px;width:1.2px;height:165.8px;background:#7a7a7a;z-index:4;"></div>
<div class="a" style="left:1337.7px;top:210.6px;width:1.2px;height:165.8px;background:#7a7a7a;z-index:4;"></div>
<div class="a" style="left:798.4px;top:375.6px;width:112.6px;height:1.6px;background:#77b82a;z-index:4;"></div>
<div class="a" style="left:911.0px;top:375.6px;width:112.9px;height:1.6px;background:#ee8db1;z-index:4;"></div>
<div class="a" style="left:1023.9px;top:375.6px;width:112.9px;height:1.6px;background:#0069b4;z-index:4;"></div>
<div class="a" style="left:1136.8px;top:375.6px;width:112.2px;height:1.6px;background:#1d9fe0;z-index:4;"></div>
<div class="a" style="left:1263.2px;top:375.6px;width:112.6px;height:1.6px;background:#f8b900;z-index:4;"></div>
<div class="a" style="left:783.1px;top:392.3px;width:1.4px;height:21.3px;background:#8c8c8c;z-index:4;"></div>
<div class="a" style="left:783.1px;top:412.5px;width:3.0px;height:1.1px;background:#8c8c8c;z-index:4;"></div>
<div class="a" style="left:785.9px;top:392.5px;width:18.0px;height:21.1px;background:#e30613;z-index:5;"></div>
<div class="a f" style="left:794.9px;top:392.0px;justify-content:center;z-index:6"><span style="font-size:20.5px;line-height:20.5px;color:#fff;font-weight:700;-webkit-text-stroke:0.9px #fff;transform:scaleX(0.970);transform-origin:center">2</span></div>
<div class="a f" style="left:810.5px;top:396.2px;justify-content:flex-start;z-index:5"><span style="font-size:13.6px;line-height:13.6px;color:#1d1d1b;font-weight:700;transform:scaleX(0.929);transform-origin:left">Confronta i numeri decimali di ogni coppia e inserisci il simbolo <span style="color:#e30613">&gt;</span>, <span style="color:#e30613">&lt;</span> o <span style="color:#e30613">=</span>.</span></div>
<div class="a f" style="left:855.9px;top:427.1px;justify-content:flex-end;z-index:5"><span style="font-size:14px;line-height:14px;color:#333231;transform:scaleX(0.880);transform-origin:right">20,13</span></div>
<div class="a" style="left:862.3px;top:425.0px;width:16.0px;height:15.8px;background:transparent;z-index:3;border:2.1px solid #e30613;border-radius:4px;box-sizing:border-box"></div>
<div class="a f" style="left:884.1px;top:427.1px;justify-content:flex-start;z-index:5"><span style="font-size:14px;line-height:14px;color:#333231;transform:scaleX(0.880);transform-origin:left">15,63</span></div>
<div class="a f" style="left:855.9px;top:453.1px;justify-content:flex-end;z-index:5"><span style="font-size:14px;line-height:14px;color:#333231;transform:scaleX(0.880);transform-origin:right">321,001</span></div>
<div class="a" style="left:862.3px;top:451.0px;width:16.0px;height:15.8px;background:transparent;z-index:3;border:2.1px solid #e30613;border-radius:4px;box-sizing:border-box"></div>
<div class="a f" style="left:884.1px;top:453.1px;justify-content:flex-start;z-index:5"><span style="font-size:14px;line-height:14px;color:#333231;transform:scaleX(0.880);transform-origin:left">321,1</span></div>
<div class="a f" style="left:994.4px;top:427.1px;justify-content:flex-end;z-index:5"><span style="font-size:14px;line-height:14px;color:#333231;transform:scaleX(0.880);transform-origin:right">69,051</span></div>
<div class="a" style="left:1000.8px;top:425.0px;width:16.0px;height:15.8px;background:transparent;z-index:3;border:2.1px solid #e30613;border-radius:4px;box-sizing:border-box"></div>
<div class="a f" style="left:1022.6px;top:427.1px;justify-content:flex-start;z-index:5"><span style="font-size:14px;line-height:14px;color:#333231;transform:scaleX(0.880);transform-origin:left">65,231</span></div>
<div class="a f" style="left:994.4px;top:453.1px;justify-content:flex-end;z-index:5"><span style="font-size:14px;line-height:14px;color:#333231;transform:scaleX(0.880);transform-origin:right">109,215</span></div>
<div class="a" style="left:1000.8px;top:451.0px;width:16.0px;height:15.8px;background:transparent;z-index:3;border:2.1px solid #e30613;border-radius:4px;box-sizing:border-box"></div>
<div class="a f" style="left:1022.6px;top:453.1px;justify-content:flex-start;z-index:5"><span style="font-size:14px;line-height:14px;color:#333231;transform:scaleX(0.880);transform-origin:left">210,215</span></div>
<div class="a f" style="left:1133.1px;top:427.1px;justify-content:flex-end;z-index:5"><span style="font-size:14px;line-height:14px;color:#333231;transform:scaleX(0.880);transform-origin:right">6,123</span></div>
<div class="a" style="left:1139.5px;top:425.0px;width:16.0px;height:15.8px;background:transparent;z-index:3;border:2.1px solid #e30613;border-radius:4px;box-sizing:border-box"></div>
<div class="a f" style="left:1161.3px;top:427.1px;justify-content:flex-start;z-index:5"><span style="font-size:14px;line-height:14px;color:#333231;transform:scaleX(0.880);transform-origin:left">6,231</span></div>
<div class="a f" style="left:1133.1px;top:453.1px;justify-content:flex-end;z-index:5"><span style="font-size:14px;line-height:14px;color:#333231;transform:scaleX(0.880);transform-origin:right">0,1</span></div>
<div class="a" style="left:1139.5px;top:451.0px;width:16.0px;height:15.8px;background:transparent;z-index:3;border:2.1px solid #e30613;border-radius:4px;box-sizing:border-box"></div>
<div class="a f" style="left:1161.3px;top:453.1px;justify-content:flex-start;z-index:5"><span style="font-size:14px;line-height:14px;color:#333231;transform:scaleX(0.880);transform-origin:left">0,100</span></div>
<div class="a f" style="left:1271.6px;top:427.1px;justify-content:flex-end;z-index:5"><span style="font-size:14px;line-height:14px;color:#333231;transform:scaleX(0.880);transform-origin:right">300,001</span></div>
<div class="a" style="left:1278.0px;top:425.0px;width:16.0px;height:15.8px;background:transparent;z-index:3;border:2.1px solid #e30613;border-radius:4px;box-sizing:border-box"></div>
<div class="a f" style="left:1299.8px;top:427.1px;justify-content:flex-start;z-index:5"><span style="font-size:14px;line-height:14px;color:#333231;transform:scaleX(0.880);transform-origin:left">301,001</span></div>
<div class="a f" style="left:1271.6px;top:453.1px;justify-content:flex-end;z-index:5"><span style="font-size:14px;line-height:14px;color:#333231;transform:scaleX(0.880);transform-origin:right">2,015</span></div>
<div class="a" style="left:1278.0px;top:451.0px;width:16.0px;height:15.8px;background:transparent;z-index:3;border:2.1px solid #e30613;border-radius:4px;box-sizing:border-box"></div>
<div class="a f" style="left:1299.8px;top:453.1px;justify-content:flex-start;z-index:5"><span style="font-size:14px;line-height:14px;color:#333231;transform:scaleX(0.880);transform-origin:left">1,996</span></div>
<div class="a" style="left:783.1px;top:491.5px;width:1.4px;height:21.3px;background:#8c8c8c;z-index:4;"></div>
<div class="a" style="left:783.1px;top:511.7px;width:3.0px;height:1.1px;background:#8c8c8c;z-index:4;"></div>
<div class="a" style="left:785.9px;top:491.7px;width:18.0px;height:21.1px;background:#e30613;z-index:5;"></div>
<div class="a f" style="left:794.9px;top:491.2px;justify-content:center;z-index:6"><span style="font-size:20.5px;line-height:20.5px;color:#fff;font-weight:700;-webkit-text-stroke:0.9px #fff;transform:scaleX(0.970);transform-origin:center">3</span></div>
<div class="a f" style="left:810.5px;top:495.3px;justify-content:flex-start;z-index:5"><span style="font-size:13.6px;line-height:13.6px;color:#1d1d1b;font-weight:700;transform:scaleX(0.919);transform-origin:left">Scrivi in ordine crescente questi numeri.</span></div>
<div class="a f" style="left:783.3px;top:528.7px;justify-content:flex-start;z-index:5"><span style="font-size:14px;line-height:14px;color:#333231;transform:scaleX(0.870);transform-origin:left">21,15</span></div>
<div class="a f" style="left:839.2px;top:528.7px;justify-content:flex-start;z-index:5"><span style="font-size:14px;line-height:14px;color:#333231;transform:scaleX(0.870);transform-origin:left">394,123</span></div>
<div class="a f" style="left:911.0px;top:528.7px;justify-content:flex-start;z-index:5"><span style="font-size:14px;line-height:14px;color:#333231;transform:scaleX(0.870);transform-origin:left">0,999</span></div>
<div class="a f" style="left:970.5px;top:528.7px;justify-content:flex-start;z-index:5"><span style="font-size:14px;line-height:14px;color:#333231;transform:scaleX(0.870);transform-origin:left">0,2</span></div>
<div class="a f" style="left:1015.6px;top:528.7px;justify-content:flex-start;z-index:5"><span style="font-size:14px;line-height:14px;color:#333231;transform:scaleX(0.870);transform-origin:left">0,204</span></div>
<svg class="a" style="left:784px;top:561.5px;z-index:2;" width="276" height="33" viewBox="0 0 276 33"><path d="M0 0 H264 L275.2 16.5 L264 32.5 H0 L10.4 16.5 Z" fill="#fef7da"/></svg>
<div class="a" style="left:794.0px;top:587.5px;width:254.0px;height:1.4px;background-image:radial-gradient(circle,#b5b09a 0.6px,transparent 1.1px);background-size:3.0px 1.4px;z-index:3"></div>
<div class="a" style="left:1086.5px;top:490.8px;width:1.4px;height:103.2px;background:#f9c33a;z-index:2;"></div>
<div class="a" style="left:1114.4px;top:490.3px;width:1.4px;height:21.2px;background:#8c8c8c;z-index:4;"></div>
<div class="a" style="left:1114.4px;top:510.4px;width:3.0px;height:1.1px;background:#8c8c8c;z-index:4;"></div>
<div class="a" style="left:1117.2px;top:490.5px;width:18.0px;height:21.0px;background:#e30613;z-index:5;"></div>
<div class="a f" style="left:1126.2px;top:489.9px;justify-content:center;z-index:6"><span style="font-size:20.5px;line-height:20.5px;color:#fff;font-weight:700;-webkit-text-stroke:0.9px #fff;transform:scaleX(0.970);transform-origin:center">4</span></div>
<div class="a f" style="left:1141.5px;top:494.1px;justify-content:flex-start;z-index:5"><span style="font-size:13.6px;line-height:13.6px;color:#1d1d1b;font-weight:700;transform:scaleX(0.895);transform-origin:left">Scrivi in ordine decrescente questi numeri.</span></div>
<div class="a f" style="left:1126.2px;top:528.7px;justify-content:flex-start;z-index:5"><span style="font-size:14px;line-height:14px;color:#333231;transform:scaleX(0.870);transform-origin:left">3,09</span></div>
<div class="a f" style="left:1182.0px;top:528.7px;justify-content:flex-start;z-index:5"><span style="font-size:14px;line-height:14px;color:#333231;transform:scaleX(0.870);transform-origin:left">13,695</span></div>
<div class="a f" style="left:1248.7px;top:528.7px;justify-content:flex-start;z-index:5"><span style="font-size:14px;line-height:14px;color:#333231;transform:scaleX(0.870);transform-origin:left">0,789</span></div>
<div class="a f" style="left:1310.8px;top:528.7px;justify-content:flex-start;z-index:5"><span style="font-size:14px;line-height:14px;color:#333231;transform:scaleX(0.870);transform-origin:left">13,678</span></div>
<div class="a f" style="left:1378.7px;top:528.7px;justify-content:flex-start;z-index:5"><span style="font-size:14px;line-height:14px;color:#333231;transform:scaleX(0.870);transform-origin:left">13</span></div>
<svg class="a" style="left:1114.6px;top:561.5px;z-index:2;" width="277" height="33" viewBox="0 0 277 33"><path d="M10.3 0 H276.2 L265.4 16.5 L276.2 32.5 H10.3 L0 16.5 Z" fill="#e6f4fc"/></svg>
<div class="a" style="left:1125.0px;top:587.5px;width:256.0px;height:1.4px;background-image:radial-gradient(circle,#a9b7c2 0.6px,transparent 1.1px);background-size:3.0px 1.4px;z-index:3"></div>
<div class="a" style="left:783.0px;top:627.9px;width:1.4px;height:21.1px;background:#8c8c8c;z-index:4;"></div>
<div class="a" style="left:783.0px;top:647.9px;width:3.0px;height:1.1px;background:#8c8c8c;z-index:4;"></div>
<div class="a" style="left:785.8px;top:628.1px;width:18.2px;height:20.9px;background:#e30613;z-index:5;"></div>
<div class="a f" style="left:794.9px;top:627.4px;justify-content:center;z-index:6"><span style="font-size:20.5px;line-height:20.5px;color:#fff;font-weight:700;-webkit-text-stroke:0.9px #fff;transform:scaleX(0.970);transform-origin:center">5</span></div>
<div class="a f" style="left:809.9px;top:631.5px;justify-content:flex-start;z-index:5"><span style="font-size:13.6px;line-height:13.6px;color:#1d1d1b;font-weight:700;transform:scaleX(0.933);transform-origin:left">Scrivi sotto ogni numero il valore della cifra evidenziata in rosso.</span></div>
<svg class="a" style="left:810px;top:658.7px;z-index:3;" width="58" height="52" viewBox="0 0 58 52"><path d="M4 1 H50.4 Q53.4 1 53.4 4 V29 Q53.4 32 50.4 32 H33.2 L27.2 46.5 L22.2 32 H4 Q1 32 1 29 V4 Q1 1 4 1 Z" fill="#000" opacity="0.13" transform="translate(-1.2,2.2)"/><path d="M4 1 H50.4 Q53.4 1 53.4 4 V29 Q53.4 32 50.4 32 H33.2 L27.2 46.5 L22.2 32 H4 Q1 32 1 29 V4 Q1 1 4 1 Z" fill="#fff" stroke="#1d9fe0" stroke-width="1.6"/></svg>
<div class="a f" style="left:838.2px;top:669.8px;justify-content:center;z-index:6"><span style="font-size:14px;line-height:14px;color:#333231;transform:scaleX(0.930);transform-origin:center"><b style="color:#e30613">7</b>534</span></div>
<div class="a" style="left:811.0px;top:723.5px;width:54.4px;height:1.4px;background-image:radial-gradient(circle,#b0b0b0 0.6px,transparent 1.1px);background-size:3.0px 1.4px;z-index:3"></div>
<svg class="a" style="left:934.3px;top:658.7px;z-index:3;" width="58" height="52" viewBox="0 0 58 52"><path d="M4 1 H50.4 Q53.4 1 53.4 4 V29 Q53.4 32 50.4 32 H33.2 L27.2 46.5 L22.2 32 H4 Q1 32 1 29 V4 Q1 1 4 1 Z" fill="#000" opacity="0.13" transform="translate(-1.2,2.2)"/><path d="M4 1 H50.4 Q53.4 1 53.4 4 V29 Q53.4 32 50.4 32 H33.2 L27.2 46.5 L22.2 32 H4 Q1 32 1 29 V4 Q1 1 4 1 Z" fill="#fff" stroke="#ee8db1" stroke-width="1.6"/></svg>
<div class="a f" style="left:962.5px;top:669.8px;justify-content:center;z-index:6"><span style="font-size:14px;line-height:14px;color:#333231;transform:scaleX(0.930);transform-origin:center">37,<b style="color:#e30613">7</b></span></div>
<div class="a" style="left:935.3px;top:723.5px;width:54.4px;height:1.4px;background-image:radial-gradient(circle,#b0b0b0 0.6px,transparent 1.1px);background-size:3.0px 1.4px;z-index:3"></div>
<svg class="a" style="left:1058.6px;top:658.7px;z-index:3;" width="58" height="52" viewBox="0 0 58 52"><path d="M4 1 H50.4 Q53.4 1 53.4 4 V29 Q53.4 32 50.4 32 H33.2 L27.2 46.5 L22.2 32 H4 Q1 32 1 29 V4 Q1 1 4 1 Z" fill="#000" opacity="0.13" transform="translate(-1.2,2.2)"/><path d="M4 1 H50.4 Q53.4 1 53.4 4 V29 Q53.4 32 50.4 32 H33.2 L27.2 46.5 L22.2 32 H4 Q1 32 1 29 V4 Q1 1 4 1 Z" fill="#fff" stroke="#77b82a" stroke-width="1.6"/></svg>
<div class="a f" style="left:1086.8px;top:669.8px;justify-content:center;z-index:6"><span style="font-size:14px;line-height:14px;color:#333231;transform:scaleX(0.930);transform-origin:center"><b style="color:#e30613">7</b>,3</span></div>
<div class="a" style="left:1059.6px;top:723.5px;width:54.4px;height:1.4px;background-image:radial-gradient(circle,#b0b0b0 0.6px,transparent 1.1px);background-size:3.0px 1.4px;z-index:3"></div>
<svg class="a" style="left:1183px;top:658.7px;z-index:3;" width="58" height="52" viewBox="0 0 58 52"><path d="M4 1 H50.4 Q53.4 1 53.4 4 V29 Q53.4 32 50.4 32 H33.2 L27.2 46.5 L22.2 32 H4 Q1 32 1 29 V4 Q1 1 4 1 Z" fill="#000" opacity="0.13" transform="translate(-1.2,2.2)"/><path d="M4 1 H50.4 Q53.4 1 53.4 4 V29 Q53.4 32 50.4 32 H33.2 L27.2 46.5 L22.2 32 H4 Q1 32 1 29 V4 Q1 1 4 1 Z" fill="#fff" stroke="#f39200" stroke-width="1.6"/></svg>
<div class="a f" style="left:1211.2px;top:669.8px;justify-content:center;z-index:6"><span style="font-size:14px;line-height:14px;color:#333231;transform:scaleX(0.930);transform-origin:center">7<b style="color:#e30613">7</b>31</span></div>
<div class="a" style="left:1184.0px;top:723.5px;width:54.4px;height:1.4px;background-image:radial-gradient(circle,#b0b0b0 0.6px,transparent 1.1px);background-size:3.0px 1.4px;z-index:3"></div>
<svg class="a" style="left:1307.3px;top:658.7px;z-index:3;" width="58" height="52" viewBox="0 0 58 52"><path d="M4 1 H50.4 Q53.4 1 53.4 4 V29 Q53.4 32 50.4 32 H33.2 L27.2 46.5 L22.2 32 H4 Q1 32 1 29 V4 Q1 1 4 1 Z" fill="#000" opacity="0.13" transform="translate(-1.2,2.2)"/><path d="M4 1 H50.4 Q53.4 1 53.4 4 V29 Q53.4 32 50.4 32 H33.2 L27.2 46.5 L22.2 32 H4 Q1 32 1 29 V4 Q1 1 4 1 Z" fill="#fff" stroke="#b9a3d3" stroke-width="1.6"/></svg>
<div class="a f" style="left:1335.5px;top:669.8px;justify-content:center;z-index:6"><span style="font-size:14px;line-height:14px;color:#333231;transform:scaleX(0.930);transform-origin:center">6<b style="color:#e30613">7</b>0,4</span></div>
<div class="a" style="left:1308.3px;top:723.5px;width:54.4px;height:1.4px;background-image:radial-gradient(circle,#b0b0b0 0.6px,transparent 1.1px);background-size:3.0px 1.4px;z-index:3"></div>
<div class="a" style="left:783.0px;top:738.6px;width:1.4px;height:21.1px;background:#8c8c8c;z-index:4;"></div>
<div class="a" style="left:783.0px;top:758.6px;width:3.0px;height:1.1px;background:#8c8c8c;z-index:4;"></div>
<div class="a" style="left:785.8px;top:738.8px;width:18.2px;height:20.9px;background:#e30613;z-index:5;"></div>
<div class="a f" style="left:794.9px;top:738.1px;justify-content:center;z-index:6"><span style="font-size:20.5px;line-height:20.5px;color:#fff;font-weight:700;-webkit-text-stroke:0.9px #fff;transform:scaleX(0.970);transform-origin:center">6</span></div>
<div class="a f" style="left:809.9px;top:742.1px;justify-content:flex-start;z-index:5"><span style="font-size:13.6px;line-height:13.6px;color:#1d1d1b;font-weight:700;transform:scaleX(0.937);transform-origin:left">Componi i numeri.</span></div>
<div class="a f" style="left:783.0px;top:770.5px;justify-content:flex-start;z-index:5"><span style="font-size:13.6px;line-height:13.6px;color:#333231;transform:scaleX(0.959);transform-origin:left">3 da, 5 u, 8 d, 0 c, 2 m =</span></div>
<div class="a" style="left:929.8px;top:782.3px;width:145.7px;height:1.4px;background-image:radial-gradient(circle,#b0b0b0 0.6px,transparent 1.1px);background-size:3.0px 1.4px;z-index:3"></div>
<div class="a f" style="left:783.0px;top:795.9px;justify-content:flex-start;z-index:5"><span style="font-size:13.6px;line-height:13.6px;color:#333231;transform:scaleX(0.964);transform-origin:left">8 h, 0 da, 0 u, 9 d =</span></div>
<div class="a" style="left:902.4px;top:807.5px;width:173.1px;height:1.4px;background-image:radial-gradient(circle,#b0b0b0 0.6px,transparent 1.1px);background-size:3.0px 1.4px;z-index:3"></div>
<div class="a" style="left:1086.4px;top:738.6px;width:1.6px;height:73.7px;z-index:2;background:repeating-linear-gradient(#f8c02c 0 3px,transparent 3px 5.5px)"></div>
<div class="a f" style="left:1099.7px;top:770.5px;justify-content:flex-start;z-index:5"><span style="font-size:13.6px;line-height:13.6px;color:#333231;transform:scaleX(0.951);transform-origin:left">7 da, 9 u, 4d, 4 c =</span></div>
<div class="a" style="left:1213.5px;top:782.3px;width:177.2px;height:1.4px;background-image:radial-gradient(circle,#b0b0b0 0.6px,transparent 1.1px);background-size:3.0px 1.4px;z-index:3"></div>
<div class="a f" style="left:1099.7px;top:795.9px;justify-content:flex-start;z-index:5"><span style="font-size:13.6px;line-height:13.6px;color:#333231;transform:scaleX(0.950);transform-origin:left">1 da, 1 u, 0 d, 9 c =</span></div>
<div class="a" style="left:1216.4px;top:807.5px;width:174.3px;height:1.4px;background-image:radial-gradient(circle,#b0b0b0 0.6px,transparent 1.1px);background-size:3.0px 1.4px;z-index:3"></div>
<div class="a" style="left:1386.4px;top:824.0px;width:58.6px;height:1.0px;background:#9d9d9c;z-index:2;"></div>
<svg class="a" style="left:1388.7px;top:823.5px;z-index:3;" width="20" height="6" viewBox="0 0 20 6"><path d="M0 0.5 H20 L10 5.5 Z" fill="#e30613"/></svg>
<div class="a f" style="left:1398.5px;top:830.7px;justify-content:center;z-index:5"><span style="font-size:14px;line-height:14px;color:#1d1d1b;-webkit-text-stroke:0.2px #1d1d1b;transform:scaleX(0.920);transform-origin:center">91</span></div></body></html>
